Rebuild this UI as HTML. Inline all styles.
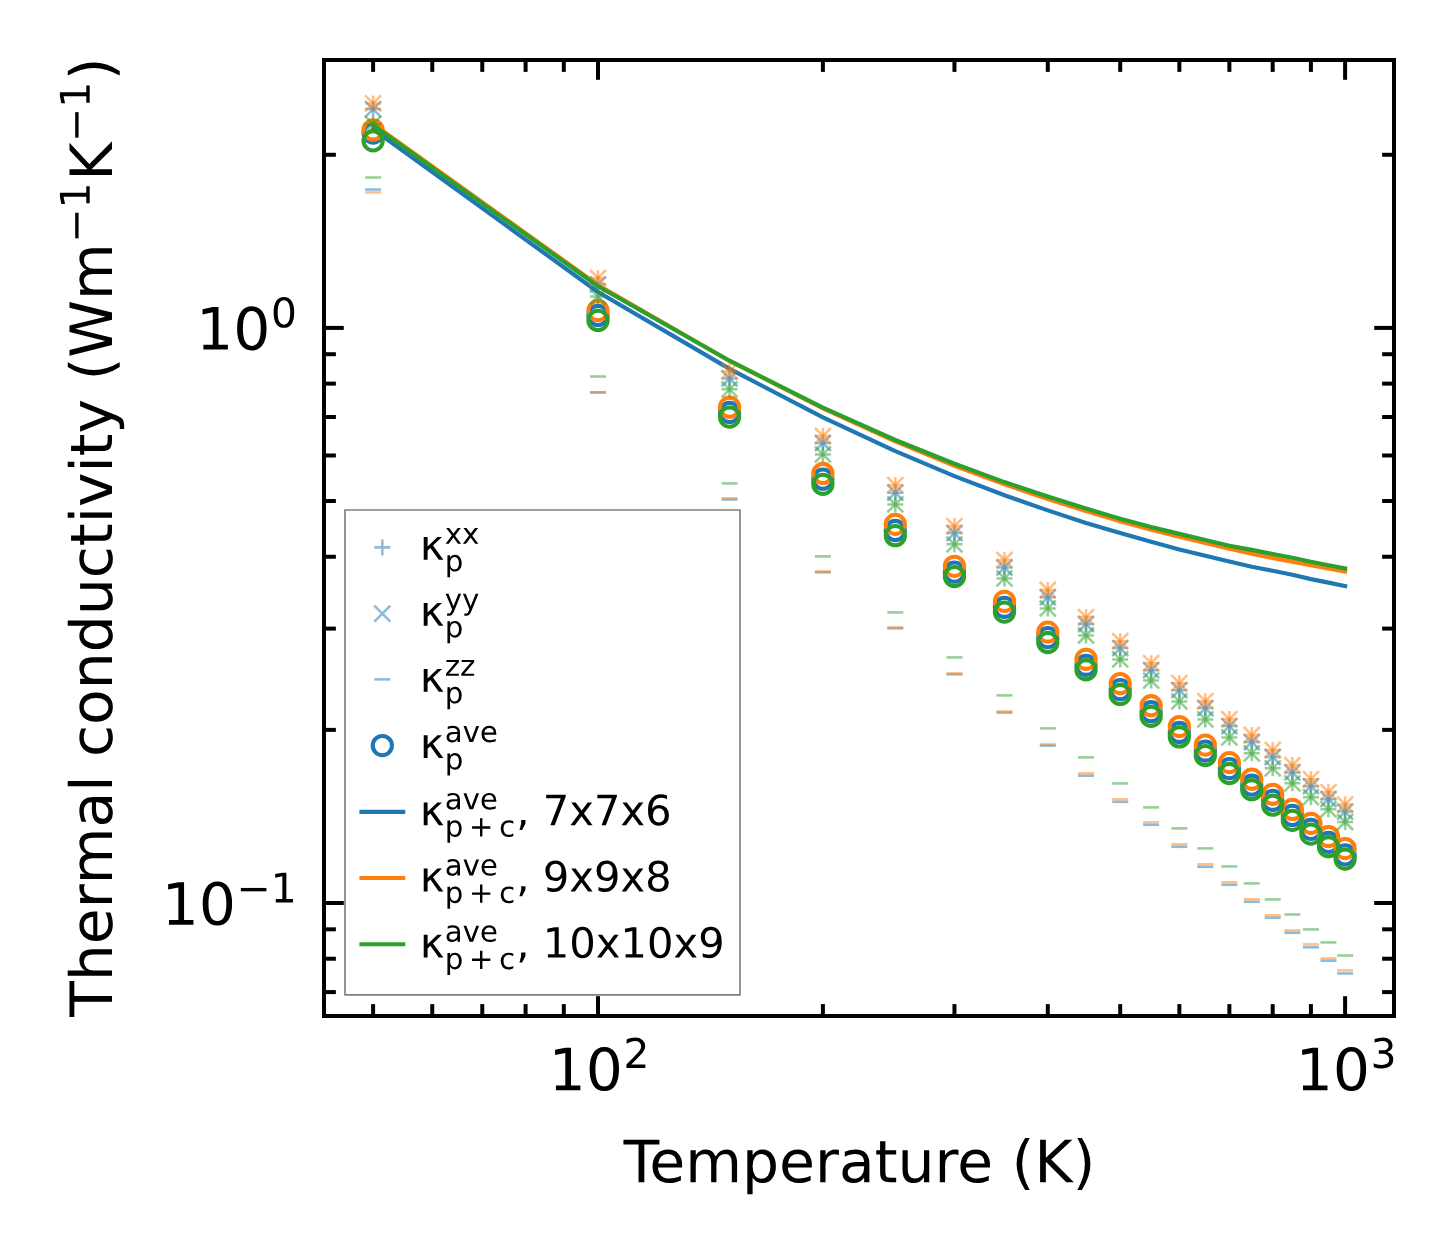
<!DOCTYPE html>
<html><head><meta charset="utf-8"><title>Thermal conductivity</title>
<style>html,body{margin:0;padding:0;background:#fff;overflow:hidden;font-family:"Liberation Sans",sans-serif}svg{display:block}</style>
</head><body>
<svg width="1454" height="1254" viewBox="0 0 348.96 300.96" version="1.1">
<defs>
<style type="text/css">*{stroke-linejoin: round; stroke-linecap: butt}</style>
</defs>
<g id="figure_1">
<g id="patch_1">
<path d="M 0 300.96 L 348.96 300.96 L 348.96 0 L 0 0 z
" style="fill: #ffffff"/>
</g>
<g id="axes_1">
<g id="patch_2">
<path d="M 77.76 243.84 L 334.56 243.84 L 334.56 14.4 L 77.76 14.4 z
" style="fill: #ffffff"/>
</g>
<g id="matplotlib.axis_1">
<g id="xtick_1">
<g id="line2d_1">
<defs>
<path id="m3f027b867d" d="M 0 0 L 0 -4.75 " style="stroke: #000000; stroke-width: 0.96"/>
</defs>
<g>
<use href="#m3f027b867d" x="143.52" y="243.84" style="stroke: #000000; stroke-width: 0.96"/>
</g>
</g>
<g id="line2d_2">
<defs>
<path id="me03b83423b" d="M 0 0 L 0 4.75 " style="stroke: #000000; stroke-width: 0.96"/>
</defs>
<g>
<use href="#me03b83423b" x="143.52" y="14.4" style="stroke: #000000; stroke-width: 0.96"/>
</g>
</g>
<g id="xtl_2" transform="translate(0.480 3.792)">
<g transform="translate(131.2 257.977813) scale(0.14 -0.14)">
<defs>
<path id="DejaVuSans-31" d="M 794 531 L 1825 531 L 1825 4091 L 703 3866 L 703 4441 L 1819 4666 L 2450 4666 L 2450 531 L 3481 531 L 3481 0 L 794 0 L 794 531 z
" transform="scale(0.015625)"/>
<path id="DejaVuSans-30" d="M 2034 4250 Q 1547 4250 1301 3770 Q 1056 3291 1056 2328 Q 1056 1369 1301 889 Q 1547 409 2034 409 Q 2525 409 2770 889 Q 3016 1369 3016 2328 Q 3016 3291 2770 3770 Q 2525 4250 2034 4250 z
M 2034 4750 Q 2819 4750 3233 4129 Q 3647 3509 3647 2328 Q 3647 1150 3233 529 Q 2819 -91 2034 -91 Q 1250 -91 836 529 Q 422 1150 422 2328 Q 422 3509 836 4129 Q 1250 4750 2034 4750 z
" transform="scale(0.015625)"/>
<path id="DejaVuSans-32" d="M 1228 531 L 3431 531 L 3431 0 L 469 0 L 469 531 Q 828 903 1448 1529 Q 2069 2156 2228 2338 Q 2531 2678 2651 2914 Q 2772 3150 2772 3378 Q 2772 3750 2511 3984 Q 2250 4219 1831 4219 Q 1534 4219 1204 4116 Q 875 4013 500 3803 L 500 4441 Q 881 4594 1212 4672 Q 1544 4750 1819 4750 Q 2544 4750 2975 4387 Q 3406 4025 3406 3419 Q 3406 3131 3298 2873 Q 3191 2616 2906 2266 Q 2828 2175 2409 1742 Q 1991 1309 1228 531 z
" transform="scale(0.015625)"/>
</defs>
<use href="#DejaVuSans-31" transform="translate(0 0.765625)"/>
<use href="#DejaVuSans-30" transform="translate(63.623047 0.765625)"/>
<use href="#DejaVuSans-32" transform="translate(128.203125 39.046875) scale(0.7)"/>
</g>
</g>
</g>
<g id="xtick_2">
<g id="line2d_3">
<g>
<use href="#m3f027b867d" x="322.824" y="243.84" style="stroke: #000000; stroke-width: 0.96"/>
</g>
</g>
<g id="line2d_4">
<g>
<use href="#me03b83423b" x="322.824" y="14.4" style="stroke: #000000; stroke-width: 0.96"/>
</g>
</g>
<g id="xtl_3" transform="translate(0.480 3.792)">
<g transform="translate(310.504 257.977813) scale(0.14 -0.14)">
<defs>
<path id="DejaVuSans-33" d="M 2597 2516 Q 3050 2419 3304 2112 Q 3559 1806 3559 1356 Q 3559 666 3084 287 Q 2609 -91 1734 -91 Q 1441 -91 1130 -33 Q 819 25 488 141 L 488 750 Q 750 597 1062 519 Q 1375 441 1716 441 Q 2309 441 2620 675 Q 2931 909 2931 1356 Q 2931 1769 2642 2001 Q 2353 2234 1838 2234 L 1294 2234 L 1294 2753 L 1863 2753 Q 2328 2753 2575 2939 Q 2822 3125 2822 3475 Q 2822 3834 2567 4026 Q 2313 4219 1838 4219 Q 1578 4219 1281 4162 Q 984 4106 628 3988 L 628 4550 Q 988 4650 1302 4700 Q 1616 4750 1894 4750 Q 2613 4750 3031 4423 Q 3450 4097 3450 3541 Q 3450 3153 3228 2886 Q 3006 2619 2597 2516 z
" transform="scale(0.015625)"/>
</defs>
<use href="#DejaVuSans-31" transform="translate(0 0.765625)"/>
<use href="#DejaVuSans-30" transform="translate(63.623047 0.765625)"/>
<use href="#DejaVuSans-33" transform="translate(128.203125 39.046875) scale(0.7)"/>
</g>
</g>
</g>
<g id="xtick_3">
<g id="line2d_5">
<defs>
<path id="m5b5d855633" d="M 0 0 L 0 -2.85 " style="stroke: #000000; stroke-width: 0.96"/>
</defs>
<g>
<use href="#m5b5d855633" x="89.544118" y="243.84" style="stroke: #000000; stroke-width: 0.96"/>
</g>
</g>
<g id="line2d_6">
<defs>
<path id="m568ea358a4" d="M 0 0 L 0 2.85 " style="stroke: #000000; stroke-width: 0.96"/>
</defs>
<g>
<use href="#m568ea358a4" x="89.544118" y="14.4" style="stroke: #000000; stroke-width: 0.96"/>
</g>
</g>
</g>
<g id="xtick_4">
<g id="line2d_7">
<g>
<use href="#m5b5d855633" x="103.741632" y="243.84" style="stroke: #000000; stroke-width: 0.96"/>
</g>
</g>
<g id="line2d_8">
<g>
<use href="#m568ea358a4" x="103.741632" y="14.4" style="stroke: #000000; stroke-width: 0.96"/>
</g>
</g>
</g>
<g id="xtick_5">
<g id="line2d_9">
<g>
<use href="#m5b5d855633" x="115.745459" y="243.84" style="stroke: #000000; stroke-width: 0.96"/>
</g>
</g>
<g id="line2d_10">
<g>
<use href="#m568ea358a4" x="115.745459" y="14.4" style="stroke: #000000; stroke-width: 0.96"/>
</g>
</g>
</g>
<g id="xtick_6">
<g id="line2d_11">
<g>
<use href="#m5b5d855633" x="126.143647" y="243.84" style="stroke: #000000; stroke-width: 0.96"/>
</g>
</g>
<g id="line2d_12">
<g>
<use href="#m568ea358a4" x="126.143647" y="14.4" style="stroke: #000000; stroke-width: 0.96"/>
</g>
</g>
</g>
<g id="xtick_7">
<g id="line2d_13">
<g>
<use href="#m5b5d855633" x="135.315499" y="243.84" style="stroke: #000000; stroke-width: 0.96"/>
</g>
</g>
<g id="line2d_14">
<g>
<use href="#m568ea358a4" x="135.315499" y="14.4" style="stroke: #000000; stroke-width: 0.96"/>
</g>
</g>
</g>
<g id="xtick_8">
<g id="line2d_15">
<g>
<use href="#m5b5d855633" x="197.495882" y="243.84" style="stroke: #000000; stroke-width: 0.96"/>
</g>
</g>
<g id="line2d_16">
<g>
<use href="#m568ea358a4" x="197.495882" y="14.4" style="stroke: #000000; stroke-width: 0.96"/>
</g>
</g>
</g>
<g id="xtick_9">
<g id="line2d_17">
<g>
<use href="#m5b5d855633" x="229.069749" y="243.84" style="stroke: #000000; stroke-width: 0.96"/>
</g>
</g>
<g id="line2d_18">
<g>
<use href="#m568ea358a4" x="229.069749" y="14.4" style="stroke: #000000; stroke-width: 0.96"/>
</g>
</g>
</g>
<g id="xtick_10">
<g id="line2d_19">
<g>
<use href="#m5b5d855633" x="251.471765" y="243.84" style="stroke: #000000; stroke-width: 0.96"/>
</g>
</g>
<g id="line2d_20">
<g>
<use href="#m568ea358a4" x="251.471765" y="14.4" style="stroke: #000000; stroke-width: 0.96"/>
</g>
</g>
</g>
<g id="xtick_11">
<g id="line2d_21">
<g>
<use href="#m5b5d855633" x="268.848118" y="243.84" style="stroke: #000000; stroke-width: 0.96"/>
</g>
</g>
<g id="line2d_22">
<g>
<use href="#m568ea358a4" x="268.848118" y="14.4" style="stroke: #000000; stroke-width: 0.96"/>
</g>
</g>
</g>
<g id="xtick_12">
<g id="line2d_23">
<g>
<use href="#m5b5d855633" x="283.045632" y="243.84" style="stroke: #000000; stroke-width: 0.96"/>
</g>
</g>
<g id="line2d_24">
<g>
<use href="#m568ea358a4" x="283.045632" y="14.4" style="stroke: #000000; stroke-width: 0.96"/>
</g>
</g>
</g>
<g id="xtick_13">
<g id="line2d_25">
<g>
<use href="#m5b5d855633" x="295.049459" y="243.84" style="stroke: #000000; stroke-width: 0.96"/>
</g>
</g>
<g id="line2d_26">
<g>
<use href="#m568ea358a4" x="295.049459" y="14.4" style="stroke: #000000; stroke-width: 0.96"/>
</g>
</g>
</g>
<g id="xtick_14">
<g id="line2d_27">
<g>
<use href="#m5b5d855633" x="305.447647" y="243.84" style="stroke: #000000; stroke-width: 0.96"/>
</g>
</g>
<g id="line2d_28">
<g>
<use href="#m568ea358a4" x="305.447647" y="14.4" style="stroke: #000000; stroke-width: 0.96"/>
</g>
</g>
</g>
<g id="xtick_15">
<g id="line2d_29">
<g>
<use href="#m5b5d855633" x="314.619499" y="243.84" style="stroke: #000000; stroke-width: 0.96"/>
</g>
</g>
<g id="line2d_30">
<g>
<use href="#m568ea358a4" x="314.619499" y="14.4" style="stroke: #000000; stroke-width: 0.96"/>
</g>
</g>
</g>
<g id="xlabel" transform="translate(0.120 8.208)">
<g transform="translate(149.545312 275.527188) scale(0.14 -0.14)">
<defs>
<path id="DejaVuSans-54" d="M -19 4666 L 3928 4666 L 3928 4134 L 2272 4134 L 2272 0 L 1638 0 L 1638 4134 L -19 4134 L -19 4666 z
" transform="scale(0.015625)"/>
<path id="DejaVuSans-65" d="M 3597 1894 L 3597 1613 L 953 1613 Q 991 1019 1311 708 Q 1631 397 2203 397 Q 2534 397 2845 478 Q 3156 559 3463 722 L 3463 178 Q 3153 47 2828 -22 Q 2503 -91 2169 -91 Q 1331 -91 842 396 Q 353 884 353 1716 Q 353 2575 817 3079 Q 1281 3584 2069 3584 Q 2775 3584 3186 3129 Q 3597 2675 3597 1894 z
M 3022 2063 Q 3016 2534 2758 2815 Q 2500 3097 2075 3097 Q 1594 3097 1305 2825 Q 1016 2553 972 2059 L 3022 2063 z
" transform="scale(0.015625)"/>
<path id="DejaVuSans-6d" d="M 3328 2828 Q 3544 3216 3844 3400 Q 4144 3584 4550 3584 Q 5097 3584 5394 3201 Q 5691 2819 5691 2113 L 5691 0 L 5113 0 L 5113 2094 Q 5113 2597 4934 2840 Q 4756 3084 4391 3084 Q 3944 3084 3684 2787 Q 3425 2491 3425 1978 L 3425 0 L 2847 0 L 2847 2094 Q 2847 2600 2669 2842 Q 2491 3084 2119 3084 Q 1678 3084 1418 2786 Q 1159 2488 1159 1978 L 1159 0 L 581 0 L 581 3500 L 1159 3500 L 1159 2956 Q 1356 3278 1631 3431 Q 1906 3584 2284 3584 Q 2666 3584 2933 3390 Q 3200 3197 3328 2828 z
" transform="scale(0.015625)"/>
<path id="DejaVuSans-70" d="M 1159 525 L 1159 -1331 L 581 -1331 L 581 3500 L 1159 3500 L 1159 2969 Q 1341 3281 1617 3432 Q 1894 3584 2278 3584 Q 2916 3584 3314 3078 Q 3713 2572 3713 1747 Q 3713 922 3314 415 Q 2916 -91 2278 -91 Q 1894 -91 1617 61 Q 1341 213 1159 525 z
M 3116 1747 Q 3116 2381 2855 2742 Q 2594 3103 2138 3103 Q 1681 3103 1420 2742 Q 1159 2381 1159 1747 Q 1159 1113 1420 752 Q 1681 391 2138 391 Q 2594 391 2855 752 Q 3116 1113 3116 1747 z
" transform="scale(0.015625)"/>
<path id="DejaVuSans-72" d="M 2631 2963 Q 2534 3019 2420 3045 Q 2306 3072 2169 3072 Q 1681 3072 1420 2755 Q 1159 2438 1159 1844 L 1159 0 L 581 0 L 581 3500 L 1159 3500 L 1159 2956 Q 1341 3275 1631 3429 Q 1922 3584 2338 3584 Q 2397 3584 2469 3576 Q 2541 3569 2628 3553 L 2631 2963 z
" transform="scale(0.015625)"/>
<path id="DejaVuSans-61" d="M 2194 1759 Q 1497 1759 1228 1600 Q 959 1441 959 1056 Q 959 750 1161 570 Q 1363 391 1709 391 Q 2188 391 2477 730 Q 2766 1069 2766 1631 L 2766 1759 L 2194 1759 z
M 3341 1997 L 3341 0 L 2766 0 L 2766 531 Q 2569 213 2275 61 Q 1981 -91 1556 -91 Q 1019 -91 701 211 Q 384 513 384 1019 Q 384 1609 779 1909 Q 1175 2209 1959 2209 L 2766 2209 L 2766 2266 Q 2766 2663 2505 2880 Q 2244 3097 1772 3097 Q 1472 3097 1187 3025 Q 903 2953 641 2809 L 641 3341 Q 956 3463 1253 3523 Q 1550 3584 1831 3584 Q 2591 3584 2966 3190 Q 3341 2797 3341 1997 z
" transform="scale(0.015625)"/>
<path id="DejaVuSans-74" d="M 1172 4494 L 1172 3500 L 2356 3500 L 2356 3053 L 1172 3053 L 1172 1153 Q 1172 725 1289 603 Q 1406 481 1766 481 L 2356 481 L 2356 0 L 1766 0 Q 1100 0 847 248 Q 594 497 594 1153 L 594 3053 L 172 3053 L 172 3500 L 594 3500 L 594 4494 L 1172 4494 z
" transform="scale(0.015625)"/>
<path id="DejaVuSans-75" d="M 544 1381 L 544 3500 L 1119 3500 L 1119 1403 Q 1119 906 1312 657 Q 1506 409 1894 409 Q 2359 409 2629 706 Q 2900 1003 2900 1516 L 2900 3500 L 3475 3500 L 3475 0 L 2900 0 L 2900 538 Q 2691 219 2414 64 Q 2138 -91 1772 -91 Q 1169 -91 856 284 Q 544 659 544 1381 z
M 1991 3584 L 1991 3584 z
" transform="scale(0.015625)"/>
<path id="DejaVuSans-20" transform="scale(0.015625)"/>
<path id="DejaVuSans-28" d="M 1984 4856 Q 1566 4138 1362 3434 Q 1159 2731 1159 2009 Q 1159 1288 1364 580 Q 1569 -128 1984 -844 L 1484 -844 Q 1016 -109 783 600 Q 550 1309 550 2009 Q 550 2706 781 3412 Q 1013 4119 1484 4856 L 1984 4856 z
" transform="scale(0.015625)"/>
<path id="DejaVuSans-4b" d="M 628 4666 L 1259 4666 L 1259 2694 L 3353 4666 L 4166 4666 L 1850 2491 L 4331 0 L 3500 0 L 1259 2247 L 1259 0 L 628 0 L 628 4666 z
" transform="scale(0.015625)"/>
<path id="DejaVuSans-29" d="M 513 4856 L 1013 4856 Q 1481 4119 1714 3412 Q 1947 2706 1947 2009 Q 1947 1309 1714 600 Q 1481 -109 1013 -844 L 513 -844 Q 928 -128 1133 580 Q 1338 1288 1338 2009 Q 1338 2731 1133 3434 Q 928 4138 513 4856 z
" transform="scale(0.015625)"/>
</defs>
<use href="#DejaVuSans-54"/>
<use href="#DejaVuSans-65" transform="translate(44.083984 0)"/>
<use href="#DejaVuSans-6d" transform="translate(105.607422 0)"/>
<use href="#DejaVuSans-70" transform="translate(203.019531 0)"/>
<use href="#DejaVuSans-65" transform="translate(266.496094 0)"/>
<use href="#DejaVuSans-72" transform="translate(328.019531 0)"/>
<use href="#DejaVuSans-61" transform="translate(369.132812 0)"/>
<use href="#DejaVuSans-74" transform="translate(430.412109 0)"/>
<use href="#DejaVuSans-75" transform="translate(469.621094 0)"/>
<use href="#DejaVuSans-72" transform="translate(533 0)"/>
<use href="#DejaVuSans-65" transform="translate(571.863281 0)"/>
<use href="#DejaVuSans-20" transform="translate(633.386719 0)"/>
<use href="#DejaVuSans-28" transform="translate(665.173828 0)"/>
<use href="#DejaVuSans-4b" transform="translate(704.1875 0)"/>
<use href="#DejaVuSans-29" transform="translate(769.763672 0)"/>
</g>
</g>
</g>
<g id="matplotlib.axis_2">
<g id="ytick_1">
<g id="line2d_31">
<defs>
<path id="me711ac755c" d="M 0 0 L 4.75 0 " style="stroke: #000000; stroke-width: 0.96"/>
</defs>
<g>
<use href="#me711ac755c" x="77.76" y="216.72" style="stroke: #000000; stroke-width: 0.96"/>
</g>
</g>
<g id="line2d_32">
<defs>
<path id="m1a2acde099" d="M 0 0 L -4.75 0 " style="stroke: #000000; stroke-width: 0.96"/>
</defs>
<g>
<use href="#m1a2acde099" x="334.56" y="216.72" style="stroke: #000000; stroke-width: 0.96"/>
</g>
</g>
<g id="ytl_-1" transform="translate(-2.544 0.000)">
<g transform="translate(41.36 222.038906) scale(0.14 -0.14)">
<defs>
<path id="DejaVuSans-2212" d="M 678 2272 L 4684 2272 L 4684 1741 L 678 1741 L 678 2272 z
" transform="scale(0.015625)"/>
</defs>
<use href="#DejaVuSans-31" transform="translate(0 0.684375)"/>
<use href="#DejaVuSans-30" transform="translate(63.623047 0.684375)"/>
<use href="#DejaVuSans-2212" transform="translate(128.203125 38.965625) scale(0.7)"/>
<use href="#DejaVuSans-31" transform="translate(186.855469 38.965625) scale(0.7)"/>
</g>
</g>
</g>
<g id="ytick_2">
<g id="line2d_33">
<g>
<use href="#me711ac755c" x="77.76" y="78.696" style="stroke: #000000; stroke-width: 0.96"/>
</g>
</g>
<g id="line2d_34">
<g>
<use href="#m1a2acde099" x="334.56" y="78.696" style="stroke: #000000; stroke-width: 0.96"/>
</g>
</g>
<g id="ytl_0" transform="translate(-2.544 0.000)">
<g transform="translate(49.62 84.014906) scale(0.14 -0.14)">
<use href="#DejaVuSans-31" transform="translate(0 0.765625)"/>
<use href="#DejaVuSans-30" transform="translate(63.623047 0.765625)"/>
<use href="#DejaVuSans-30" transform="translate(128.203125 39.046875) scale(0.7)"/>
</g>
</g>
</g>
<g id="ytick_3">
<g id="line2d_35">
<defs>
<path id="m855f1141aa" d="M 0 0 L 2.85 0 " style="stroke: #000000; stroke-width: 0.96"/>
</defs>
<g>
<use href="#m855f1141aa" x="77.76" y="238.100188" style="stroke: #000000; stroke-width: 0.96"/>
</g>
</g>
<g id="line2d_36">
<defs>
<path id="m76faeb5636" d="M 0 0 L -2.85 0 " style="stroke: #000000; stroke-width: 0.96"/>
</defs>
<g>
<use href="#m76faeb5636" x="334.56" y="238.100188" style="stroke: #000000; stroke-width: 0.96"/>
</g>
</g>
</g>
<g id="ytick_4">
<g id="line2d_37">
<g>
<use href="#m855f1141aa" x="77.76" y="230.095908" style="stroke: #000000; stroke-width: 0.96"/>
</g>
</g>
<g id="line2d_38">
<g>
<use href="#m76faeb5636" x="334.56" y="230.095908" style="stroke: #000000; stroke-width: 0.96"/>
</g>
</g>
</g>
<g id="ytick_5">
<g id="line2d_39">
<g>
<use href="#m855f1141aa" x="77.76" y="223.035632" style="stroke: #000000; stroke-width: 0.96"/>
</g>
</g>
<g id="line2d_40">
<g>
<use href="#m76faeb5636" x="334.56" y="223.035632" style="stroke: #000000; stroke-width: 0.96"/>
</g>
</g>
</g>
<g id="ytick_6">
<g id="line2d_41">
<g>
<use href="#m855f1141aa" x="77.76" y="175.170636" style="stroke: #000000; stroke-width: 0.96"/>
</g>
</g>
<g id="line2d_42">
<g>
<use href="#m76faeb5636" x="334.56" y="175.170636" style="stroke: #000000; stroke-width: 0.96"/>
</g>
</g>
</g>
<g id="ytick_7">
<g id="line2d_43">
<g>
<use href="#m855f1141aa" x="77.76" y="150.865816" style="stroke: #000000; stroke-width: 0.96"/>
</g>
</g>
<g id="line2d_44">
<g>
<use href="#m76faeb5636" x="334.56" y="150.865816" style="stroke: #000000; stroke-width: 0.96"/>
</g>
</g>
</g>
<g id="ytick_8">
<g id="line2d_45">
<g>
<use href="#m855f1141aa" x="77.76" y="133.621272" style="stroke: #000000; stroke-width: 0.96"/>
</g>
</g>
<g id="line2d_46">
<g>
<use href="#m76faeb5636" x="334.56" y="133.621272" style="stroke: #000000; stroke-width: 0.96"/>
</g>
</g>
</g>
<g id="ytick_9">
<g id="line2d_47">
<g>
<use href="#m855f1141aa" x="77.76" y="120.245364" style="stroke: #000000; stroke-width: 0.96"/>
</g>
</g>
<g id="line2d_48">
<g>
<use href="#m76faeb5636" x="334.56" y="120.245364" style="stroke: #000000; stroke-width: 0.96"/>
</g>
</g>
</g>
<g id="ytick_10">
<g id="line2d_49">
<g>
<use href="#m855f1141aa" x="77.76" y="109.316452" style="stroke: #000000; stroke-width: 0.96"/>
</g>
</g>
<g id="line2d_50">
<g>
<use href="#m76faeb5636" x="334.56" y="109.316452" style="stroke: #000000; stroke-width: 0.96"/>
</g>
</g>
</g>
<g id="ytick_11">
<g id="line2d_51">
<g>
<use href="#m855f1141aa" x="77.76" y="100.076188" style="stroke: #000000; stroke-width: 0.96"/>
</g>
</g>
<g id="line2d_52">
<g>
<use href="#m76faeb5636" x="334.56" y="100.076188" style="stroke: #000000; stroke-width: 0.96"/>
</g>
</g>
</g>
<g id="ytick_12">
<g id="line2d_53">
<g>
<use href="#m855f1141aa" x="77.76" y="92.071908" style="stroke: #000000; stroke-width: 0.96"/>
</g>
</g>
<g id="line2d_54">
<g>
<use href="#m76faeb5636" x="334.56" y="92.071908" style="stroke: #000000; stroke-width: 0.96"/>
</g>
</g>
</g>
<g id="ytick_13">
<g id="line2d_55">
<g>
<use href="#m855f1141aa" x="77.76" y="85.011632" style="stroke: #000000; stroke-width: 0.96"/>
</g>
</g>
<g id="line2d_56">
<g>
<use href="#m76faeb5636" x="334.56" y="85.011632" style="stroke: #000000; stroke-width: 0.96"/>
</g>
</g>
</g>
<g id="ytick_14">
<g id="line2d_57">
<g>
<use href="#m855f1141aa" x="77.76" y="37.146636" style="stroke: #000000; stroke-width: 0.96"/>
</g>
</g>
<g id="line2d_58">
<g>
<use href="#m76faeb5636" x="334.56" y="37.146636" style="stroke: #000000; stroke-width: 0.96"/>
</g>
</g>
</g>
<g id="ylabel" transform="translate(-7.440 -0.240)">
<g transform="translate(34.42 244.27) rotate(-90) scale(0.14 -0.14)">
<defs>
<path id="DejaVuSans-68" d="M 3513 2113 L 3513 0 L 2938 0 L 2938 2094 Q 2938 2591 2744 2837 Q 2550 3084 2163 3084 Q 1697 3084 1428 2787 Q 1159 2491 1159 1978 L 1159 0 L 581 0 L 581 4863 L 1159 4863 L 1159 2956 Q 1366 3272 1645 3428 Q 1925 3584 2291 3584 Q 2894 3584 3203 3211 Q 3513 2838 3513 2113 z
" transform="scale(0.015625)"/>
<path id="DejaVuSans-6c" d="M 603 4863 L 1178 4863 L 1178 0 L 603 0 L 603 4863 z
" transform="scale(0.015625)"/>
<path id="DejaVuSans-63" d="M 3122 3366 L 3122 2828 Q 2878 2963 2633 3030 Q 2388 3097 2138 3097 Q 1578 3097 1268 2742 Q 959 2388 959 1747 Q 959 1106 1268 751 Q 1578 397 2138 397 Q 2388 397 2633 464 Q 2878 531 3122 666 L 3122 134 Q 2881 22 2623 -34 Q 2366 -91 2075 -91 Q 1284 -91 818 406 Q 353 903 353 1747 Q 353 2603 823 3093 Q 1294 3584 2113 3584 Q 2378 3584 2631 3529 Q 2884 3475 3122 3366 z
" transform="scale(0.015625)"/>
<path id="DejaVuSans-6f" d="M 1959 3097 Q 1497 3097 1228 2736 Q 959 2375 959 1747 Q 959 1119 1226 758 Q 1494 397 1959 397 Q 2419 397 2687 759 Q 2956 1122 2956 1747 Q 2956 2369 2687 2733 Q 2419 3097 1959 3097 z
M 1959 3584 Q 2709 3584 3137 3096 Q 3566 2609 3566 1747 Q 3566 888 3137 398 Q 2709 -91 1959 -91 Q 1206 -91 779 398 Q 353 888 353 1747 Q 353 2609 779 3096 Q 1206 3584 1959 3584 z
" transform="scale(0.015625)"/>
<path id="DejaVuSans-6e" d="M 3513 2113 L 3513 0 L 2938 0 L 2938 2094 Q 2938 2591 2744 2837 Q 2550 3084 2163 3084 Q 1697 3084 1428 2787 Q 1159 2491 1159 1978 L 1159 0 L 581 0 L 581 3500 L 1159 3500 L 1159 2956 Q 1366 3272 1645 3428 Q 1925 3584 2291 3584 Q 2894 3584 3203 3211 Q 3513 2838 3513 2113 z
" transform="scale(0.015625)"/>
<path id="DejaVuSans-64" d="M 2906 2969 L 2906 4863 L 3481 4863 L 3481 0 L 2906 0 L 2906 525 Q 2725 213 2448 61 Q 2172 -91 1784 -91 Q 1150 -91 751 415 Q 353 922 353 1747 Q 353 2572 751 3078 Q 1150 3584 1784 3584 Q 2172 3584 2448 3432 Q 2725 3281 2906 2969 z
M 947 1747 Q 947 1113 1208 752 Q 1469 391 1925 391 Q 2381 391 2643 752 Q 2906 1113 2906 1747 Q 2906 2381 2643 2742 Q 2381 3103 1925 3103 Q 1469 3103 1208 2742 Q 947 2381 947 1747 z
" transform="scale(0.015625)"/>
<path id="DejaVuSans-69" d="M 603 3500 L 1178 3500 L 1178 0 L 603 0 L 603 3500 z
M 603 4863 L 1178 4863 L 1178 4134 L 603 4134 L 603 4863 z
" transform="scale(0.015625)"/>
<path id="DejaVuSans-76" d="M 191 3500 L 800 3500 L 1894 563 L 2988 3500 L 3597 3500 L 2284 0 L 1503 0 L 191 3500 z
" transform="scale(0.015625)"/>
<path id="DejaVuSans-79" d="M 2059 -325 Q 1816 -950 1584 -1140 Q 1353 -1331 966 -1331 L 506 -1331 L 506 -850 L 844 -850 Q 1081 -850 1212 -737 Q 1344 -625 1503 -206 L 1606 56 L 191 3500 L 800 3500 L 1894 763 L 2988 3500 L 3597 3500 L 2059 -325 z
" transform="scale(0.015625)"/>
<path id="DejaVuSans-57" d="M 213 4666 L 850 4666 L 1831 722 L 2809 4666 L 3519 4666 L 4500 722 L 5478 4666 L 6119 4666 L 4947 0 L 4153 0 L 3169 4050 L 2175 0 L 1381 0 L 213 4666 z
" transform="scale(0.015625)"/>
</defs>
<use href="#DejaVuSans-54" transform="translate(0 0.684375)"/>
<use href="#DejaVuSans-68" transform="translate(61.083984 0.684375)"/>
<use href="#DejaVuSans-65" transform="translate(124.462891 0.684375)"/>
<use href="#DejaVuSans-72" transform="translate(185.986328 0.684375)"/>
<use href="#DejaVuSans-6d" transform="translate(227.099609 0.684375)"/>
<use href="#DejaVuSans-61" transform="translate(324.511719 0.684375)"/>
<use href="#DejaVuSans-6c" transform="translate(385.791016 0.684375)"/>
<use href="#DejaVuSans-20" transform="translate(413.574219 0.684375)"/>
<use href="#DejaVuSans-63" transform="translate(445.361328 0.684375)"/>
<use href="#DejaVuSans-6f" transform="translate(500.341797 0.684375)"/>
<use href="#DejaVuSans-6e" transform="translate(561.523438 0.684375)"/>
<use href="#DejaVuSans-64" transform="translate(624.902344 0.684375)"/>
<use href="#DejaVuSans-75" transform="translate(688.378906 0.684375)"/>
<use href="#DejaVuSans-63" transform="translate(751.757812 0.684375)"/>
<use href="#DejaVuSans-74" transform="translate(806.738281 0.684375)"/>
<use href="#DejaVuSans-69" transform="translate(845.947266 0.684375)"/>
<use href="#DejaVuSans-76" transform="translate(873.730469 0.684375)"/>
<use href="#DejaVuSans-69" transform="translate(932.910156 0.684375)"/>
<use href="#DejaVuSans-74" transform="translate(960.693359 0.684375)"/>
<use href="#DejaVuSans-79" transform="translate(999.902344 0.684375)"/>
<use href="#DejaVuSans-20" transform="translate(1059.082031 0.684375)"/>
<use href="#DejaVuSans-28" transform="translate(1090.869141 0.684375)"/>
<use href="#DejaVuSans-57" transform="translate(1129.882812 0.684375)"/>
<use href="#DejaVuSans-6d" transform="translate(1228.759766 0.684375)"/>
<use href="#DejaVuSans-2212" transform="translate(1327.128906 38.965625) scale(0.7)"/>
<use href="#DejaVuSans-31" transform="translate(1385.78125 38.965625) scale(0.7)"/>
<use href="#DejaVuSans-4b" transform="translate(1433.051758 0.684375)"/>
<use href="#DejaVuSans-2212" transform="translate(1499.584961 38.965625) scale(0.7)"/>
<use href="#DejaVuSans-31" transform="translate(1558.237305 38.965625) scale(0.7)"/>
<use href="#DejaVuSans-29" transform="translate(1605.507812 0.684375)"/>
</g>
</g>
</g>
<g id="line2d_59">
<defs>
<path id="mce99f1e8fa" d="M -1.92 0 L 1.92 0 M 0 1.92 L 0 -1.92 " style="stroke: #1f77b4; stroke-opacity: 0.5; stroke-width: 0.61"/>
</defs>
<g clip-path="url(#p84a2641973)">
<use href="#mce99f1e8fa" x="89.544118" y="26.184" style="fill: #1f77b4; fill-opacity: 0.5; stroke: #1f77b4; stroke-opacity: 0.5; stroke-width: 0.61"/>
<use href="#mce99f1e8fa" x="143.52" y="68.232" style="fill: #1f77b4; fill-opacity: 0.5; stroke: #1f77b4; stroke-opacity: 0.5; stroke-width: 0.61"/>
<use href="#mce99f1e8fa" x="175.093867" y="90.84" style="fill: #1f77b4; fill-opacity: 0.5; stroke: #1f77b4; stroke-opacity: 0.5; stroke-width: 0.61"/>
<use href="#mce99f1e8fa" x="197.495882" y="106.32" style="fill: #1f77b4; fill-opacity: 0.5; stroke: #1f77b4; stroke-opacity: 0.5; stroke-width: 0.61"/>
<use href="#mce99f1e8fa" x="214.872235" y="118.248" style="fill: #1f77b4; fill-opacity: 0.5; stroke: #1f77b4; stroke-opacity: 0.5; stroke-width: 0.61"/>
<use href="#mce99f1e8fa" x="229.069749" y="127.944" style="fill: #1f77b4; fill-opacity: 0.5; stroke: #1f77b4; stroke-opacity: 0.5; stroke-width: 0.61"/>
<use href="#mce99f1e8fa" x="241.073577" y="136.2" style="fill: #1f77b4; fill-opacity: 0.5; stroke: #1f77b4; stroke-opacity: 0.5; stroke-width: 0.61"/>
<use href="#mce99f1e8fa" x="251.471765" y="143.34" style="fill: #1f77b4; fill-opacity: 0.5; stroke: #1f77b4; stroke-opacity: 0.5; stroke-width: 0.61"/>
<use href="#mce99f1e8fa" x="260.643617" y="149.76" style="fill: #1f77b4; fill-opacity: 0.5; stroke: #1f77b4; stroke-opacity: 0.5; stroke-width: 0.61"/>
<use href="#mce99f1e8fa" x="268.848118" y="155.544" style="fill: #1f77b4; fill-opacity: 0.5; stroke: #1f77b4; stroke-opacity: 0.5; stroke-width: 0.61"/>
<use href="#mce99f1e8fa" x="276.269992" y="160.848" style="fill: #1f77b4; fill-opacity: 0.5; stroke: #1f77b4; stroke-opacity: 0.5; stroke-width: 0.61"/>
<use href="#mce99f1e8fa" x="283.045632" y="165.648" style="fill: #1f77b4; fill-opacity: 0.5; stroke: #1f77b4; stroke-opacity: 0.5; stroke-width: 0.61"/>
<use href="#mce99f1e8fa" x="289.278616" y="169.944" style="fill: #1f77b4; fill-opacity: 0.5; stroke: #1f77b4; stroke-opacity: 0.5; stroke-width: 0.61"/>
<use href="#mce99f1e8fa" x="295.049459" y="174.264" style="fill: #1f77b4; fill-opacity: 0.5; stroke: #1f77b4; stroke-opacity: 0.5; stroke-width: 0.61"/>
<use href="#mce99f1e8fa" x="300.421985" y="178.08" style="fill: #1f77b4; fill-opacity: 0.5; stroke: #1f77b4; stroke-opacity: 0.5; stroke-width: 0.61"/>
<use href="#mce99f1e8fa" x="305.447647" y="181.68" style="fill: #1f77b4; fill-opacity: 0.5; stroke: #1f77b4; stroke-opacity: 0.5; stroke-width: 0.61"/>
<use href="#mce99f1e8fa" x="310.168531" y="185.376" style="fill: #1f77b4; fill-opacity: 0.5; stroke: #1f77b4; stroke-opacity: 0.5; stroke-width: 0.61"/>
<use href="#mce99f1e8fa" x="314.619499" y="188.688" style="fill: #1f77b4; fill-opacity: 0.5; stroke: #1f77b4; stroke-opacity: 0.5; stroke-width: 0.61"/>
<use href="#mce99f1e8fa" x="318.829753" y="191.808" style="fill: #1f77b4; fill-opacity: 0.5; stroke: #1f77b4; stroke-opacity: 0.5; stroke-width: 0.61"/>
<use href="#mce99f1e8fa" x="322.824" y="194.784" style="fill: #1f77b4; fill-opacity: 0.5; stroke: #1f77b4; stroke-opacity: 0.5; stroke-width: 0.61"/>
</g>
</g>
<g id="line2d_60">
<defs>
<path id="m99b13dde95" d="M -1.92 1.92 L 1.92 -1.92 M -1.92 -1.92 L 1.92 1.92 " style="stroke: #1f77b4; stroke-opacity: 0.5; stroke-width: 0.61"/>
</defs>
<g clip-path="url(#p84a2641973)">
<use href="#m99b13dde95" x="89.544118" y="26.184" style="fill: #1f77b4; fill-opacity: 0.5; stroke: #1f77b4; stroke-opacity: 0.5; stroke-width: 0.61"/>
<use href="#m99b13dde95" x="143.52" y="68.232" style="fill: #1f77b4; fill-opacity: 0.5; stroke: #1f77b4; stroke-opacity: 0.5; stroke-width: 0.61"/>
<use href="#m99b13dde95" x="175.093867" y="90.84" style="fill: #1f77b4; fill-opacity: 0.5; stroke: #1f77b4; stroke-opacity: 0.5; stroke-width: 0.61"/>
<use href="#m99b13dde95" x="197.495882" y="106.32" style="fill: #1f77b4; fill-opacity: 0.5; stroke: #1f77b4; stroke-opacity: 0.5; stroke-width: 0.61"/>
<use href="#m99b13dde95" x="214.872235" y="118.248" style="fill: #1f77b4; fill-opacity: 0.5; stroke: #1f77b4; stroke-opacity: 0.5; stroke-width: 0.61"/>
<use href="#m99b13dde95" x="229.069749" y="127.944" style="fill: #1f77b4; fill-opacity: 0.5; stroke: #1f77b4; stroke-opacity: 0.5; stroke-width: 0.61"/>
<use href="#m99b13dde95" x="241.073577" y="136.2" style="fill: #1f77b4; fill-opacity: 0.5; stroke: #1f77b4; stroke-opacity: 0.5; stroke-width: 0.61"/>
<use href="#m99b13dde95" x="251.471765" y="143.34" style="fill: #1f77b4; fill-opacity: 0.5; stroke: #1f77b4; stroke-opacity: 0.5; stroke-width: 0.61"/>
<use href="#m99b13dde95" x="260.643617" y="149.76" style="fill: #1f77b4; fill-opacity: 0.5; stroke: #1f77b4; stroke-opacity: 0.5; stroke-width: 0.61"/>
<use href="#m99b13dde95" x="268.848118" y="155.544" style="fill: #1f77b4; fill-opacity: 0.5; stroke: #1f77b4; stroke-opacity: 0.5; stroke-width: 0.61"/>
<use href="#m99b13dde95" x="276.269992" y="160.848" style="fill: #1f77b4; fill-opacity: 0.5; stroke: #1f77b4; stroke-opacity: 0.5; stroke-width: 0.61"/>
<use href="#m99b13dde95" x="283.045632" y="165.648" style="fill: #1f77b4; fill-opacity: 0.5; stroke: #1f77b4; stroke-opacity: 0.5; stroke-width: 0.61"/>
<use href="#m99b13dde95" x="289.278616" y="169.944" style="fill: #1f77b4; fill-opacity: 0.5; stroke: #1f77b4; stroke-opacity: 0.5; stroke-width: 0.61"/>
<use href="#m99b13dde95" x="295.049459" y="174.264" style="fill: #1f77b4; fill-opacity: 0.5; stroke: #1f77b4; stroke-opacity: 0.5; stroke-width: 0.61"/>
<use href="#m99b13dde95" x="300.421985" y="178.08" style="fill: #1f77b4; fill-opacity: 0.5; stroke: #1f77b4; stroke-opacity: 0.5; stroke-width: 0.61"/>
<use href="#m99b13dde95" x="305.447647" y="181.68" style="fill: #1f77b4; fill-opacity: 0.5; stroke: #1f77b4; stroke-opacity: 0.5; stroke-width: 0.61"/>
<use href="#m99b13dde95" x="310.168531" y="185.376" style="fill: #1f77b4; fill-opacity: 0.5; stroke: #1f77b4; stroke-opacity: 0.5; stroke-width: 0.61"/>
<use href="#m99b13dde95" x="314.619499" y="188.688" style="fill: #1f77b4; fill-opacity: 0.5; stroke: #1f77b4; stroke-opacity: 0.5; stroke-width: 0.61"/>
<use href="#m99b13dde95" x="318.829753" y="191.808" style="fill: #1f77b4; fill-opacity: 0.5; stroke: #1f77b4; stroke-opacity: 0.5; stroke-width: 0.61"/>
<use href="#m99b13dde95" x="322.824" y="194.784" style="fill: #1f77b4; fill-opacity: 0.5; stroke: #1f77b4; stroke-opacity: 0.5; stroke-width: 0.61"/>
</g>
</g>
<g id="line2d_61">
<defs>
<path id="m430d65eb48" d="M 1.92 0 L -1.92 -0 " style="stroke: #1f77b4; stroke-opacity: 0.5; stroke-width: 0.61"/>
</defs>
<g clip-path="url(#p84a2641973)">
<use href="#m430d65eb48" x="89.544118" y="45.48" style="fill: #1f77b4; fill-opacity: 0.5; stroke: #1f77b4; stroke-opacity: 0.5; stroke-width: 0.61"/>
<use href="#m430d65eb48" x="143.52" y="94.176" style="fill: #1f77b4; fill-opacity: 0.5; stroke: #1f77b4; stroke-opacity: 0.5; stroke-width: 0.61"/>
<use href="#m430d65eb48" x="175.093867" y="119.88" style="fill: #1f77b4; fill-opacity: 0.5; stroke: #1f77b4; stroke-opacity: 0.5; stroke-width: 0.61"/>
<use href="#m430d65eb48" x="197.495882" y="137.352" style="fill: #1f77b4; fill-opacity: 0.5; stroke: #1f77b4; stroke-opacity: 0.5; stroke-width: 0.61"/>
<use href="#m430d65eb48" x="214.872235" y="150.792" style="fill: #1f77b4; fill-opacity: 0.5; stroke: #1f77b4; stroke-opacity: 0.5; stroke-width: 0.61"/>
<use href="#m430d65eb48" x="229.069749" y="161.832" style="fill: #1f77b4; fill-opacity: 0.5; stroke: #1f77b4; stroke-opacity: 0.5; stroke-width: 0.61"/>
<use href="#m430d65eb48" x="241.073577" y="171.024" style="fill: #1f77b4; fill-opacity: 0.5; stroke: #1f77b4; stroke-opacity: 0.5; stroke-width: 0.61"/>
<use href="#m430d65eb48" x="251.471765" y="178.944" style="fill: #1f77b4; fill-opacity: 0.5; stroke: #1f77b4; stroke-opacity: 0.5; stroke-width: 0.61"/>
<use href="#m430d65eb48" x="260.643617" y="186.168" style="fill: #1f77b4; fill-opacity: 0.5; stroke: #1f77b4; stroke-opacity: 0.5; stroke-width: 0.61"/>
<use href="#m430d65eb48" x="268.848118" y="192.432" style="fill: #1f77b4; fill-opacity: 0.5; stroke: #1f77b4; stroke-opacity: 0.5; stroke-width: 0.61"/>
<use href="#m430d65eb48" x="276.269992" y="197.952" style="fill: #1f77b4; fill-opacity: 0.5; stroke: #1f77b4; stroke-opacity: 0.5; stroke-width: 0.61"/>
<use href="#m430d65eb48" x="283.045632" y="203.232" style="fill: #1f77b4; fill-opacity: 0.5; stroke: #1f77b4; stroke-opacity: 0.5; stroke-width: 0.61"/>
<use href="#m430d65eb48" x="289.278616" y="208.032" style="fill: #1f77b4; fill-opacity: 0.5; stroke: #1f77b4; stroke-opacity: 0.5; stroke-width: 0.61"/>
<use href="#m430d65eb48" x="295.049459" y="212.352" style="fill: #1f77b4; fill-opacity: 0.5; stroke: #1f77b4; stroke-opacity: 0.5; stroke-width: 0.61"/>
<use href="#m430d65eb48" x="300.421985" y="216.432" style="fill: #1f77b4; fill-opacity: 0.5; stroke: #1f77b4; stroke-opacity: 0.5; stroke-width: 0.61"/>
<use href="#m430d65eb48" x="305.447647" y="220.248" style="fill: #1f77b4; fill-opacity: 0.5; stroke: #1f77b4; stroke-opacity: 0.5; stroke-width: 0.61"/>
<use href="#m430d65eb48" x="310.168531" y="223.872" style="fill: #1f77b4; fill-opacity: 0.5; stroke: #1f77b4; stroke-opacity: 0.5; stroke-width: 0.61"/>
<use href="#m430d65eb48" x="314.619499" y="227.352" style="fill: #1f77b4; fill-opacity: 0.5; stroke: #1f77b4; stroke-opacity: 0.5; stroke-width: 0.61"/>
<use href="#m430d65eb48" x="318.829753" y="230.568" style="fill: #1f77b4; fill-opacity: 0.5; stroke: #1f77b4; stroke-opacity: 0.5; stroke-width: 0.61"/>
<use href="#m430d65eb48" x="322.824" y="233.64" style="fill: #1f77b4; fill-opacity: 0.5; stroke: #1f77b4; stroke-opacity: 0.5; stroke-width: 0.61"/>
</g>
</g>
<g id="line2d_62">
<defs>
<path id="m526845c100" d="M 0 2.305 C 0.611293 2.305 1.197632 2.062131 1.629881 1.629881 C 2.062131 1.197632 2.305 0.611293 2.305 0 C 2.305 -0.611293 2.062131 -1.197632 1.629881 -1.629881 C 1.197632 -2.062131 0.611293 -2.305 0 -2.305 C -0.611293 -2.305 -1.197632 -2.062131 -1.629881 -1.629881 C -2.062131 -1.197632 -2.305 -0.611293 -2.305 0 C -2.305 0.611293 -2.062131 1.197632 -1.629881 1.629881 C -1.197632 2.062131 -0.611293 2.305 0 2.305 z
" style="stroke: #1f77b4; stroke-width: 0.98"/>
</defs>
<g clip-path="url(#p84a2641973)">
<use href="#m526845c100" x="89.544118" y="31.948145" style="fill-opacity: 0; stroke: #1f77b4; stroke-width: 0.98"/>
<use href="#m526845c100" x="143.52" y="75.708944" style="fill-opacity: 0; stroke: #1f77b4; stroke-width: 0.98"/>
<use href="#m526845c100" x="175.093867" y="98.988734" style="fill-opacity: 0; stroke: #1f77b4; stroke-width: 0.98"/>
<use href="#m526845c100" x="197.495882" y="115.000312" style="fill-opacity: 0; stroke: #1f77b4; stroke-width: 0.98"/>
<use href="#m526845c100" x="214.872235" y="127.316176" style="fill-opacity: 0; stroke: #1f77b4; stroke-width: 0.98"/>
<use href="#m526845c100" x="229.069749" y="137.318149" style="fill-opacity: 0; stroke: #1f77b4; stroke-width: 0.98"/>
<use href="#m526845c100" x="241.073577" y="145.749059" style="fill-opacity: 0; stroke: #1f77b4; stroke-width: 0.98"/>
<use href="#m526845c100" x="251.471765" y="153.015864" style="fill-opacity: 0; stroke: #1f77b4; stroke-width: 0.98"/>
<use href="#m526845c100" x="260.643617" y="159.672378" style="fill-opacity: 0; stroke: #1f77b4; stroke-width: 0.98"/>
<use href="#m526845c100" x="268.848118" y="165.507595" style="fill-opacity: 0; stroke: #1f77b4; stroke-width: 0.98"/>
<use href="#m526845c100" x="276.269992" y="170.822537" style="fill-opacity: 0; stroke: #1f77b4; stroke-width: 0.98"/>
<use href="#m526845c100" x="283.045632" y="175.793288" style="fill-opacity: 0; stroke: #1f77b4; stroke-width: 0.98"/>
<use href="#m526845c100" x="289.278616" y="180.250232" style="fill-opacity: 0; stroke: #1f77b4; stroke-width: 0.98"/>
<use href="#m526845c100" x="295.049459" y="184.462232" style="fill-opacity: 0; stroke: #1f77b4; stroke-width: 0.98"/>
<use href="#m526845c100" x="300.421985" y="188.449825" style="fill-opacity: 0; stroke: #1f77b4; stroke-width: 0.98"/>
<use href="#m526845c100" x="305.447647" y="192.072329" style="fill-opacity: 0; stroke: #1f77b4; stroke-width: 0.98"/>
<use href="#m526845c100" x="310.168531" y="195.700835" style="fill-opacity: 0; stroke: #1f77b4; stroke-width: 0.98"/>
<use href="#m526845c100" x="314.619499" y="199.042311" style="fill-opacity: 0; stroke: #1f77b4; stroke-width: 0.98"/>
<use href="#m526845c100" x="318.829753" y="202.168559" style="fill-opacity: 0; stroke: #1f77b4; stroke-width: 0.98"/>
<use href="#m526845c100" x="322.824" y="205.164471" style="fill-opacity: 0; stroke: #1f77b4; stroke-width: 0.98"/>
</g>
</g>
<g id="line2d_63">
<path d="M 89.544118 31.008 L 143.52 70.08 L 175.093867 88.536 L 197.495882 100.152 L 214.872235 108.288 L 229.069749 114.264 L 241.073577 118.872 L 251.471765 122.496 L 260.643617 125.496 L 268.848118 127.92 L 276.269992 130.032 L 283.045632 131.88 L 289.278616 133.368 L 295.049459 134.76 L 300.421985 136.008 L 305.447647 136.992 L 310.168531 137.928 L 314.619499 138.984 L 318.829753 139.824 L 322.824 140.64 " clip-path="url(#p84a2641973)" style="fill: none; stroke: #1f77b4; stroke-linecap: square"/>
</g>
<g id="line2d_64">
<defs>
<path id="mf8a66057e0" d="M -1.92 0 L 1.92 0 M 0 1.92 L 0 -1.92 " style="stroke: #ff7f0e; stroke-opacity: 0.5; stroke-width: 0.61"/>
</defs>
<g clip-path="url(#p84a2641973)">
<use href="#mf8a66057e0" x="89.544118" y="24.816" style="fill: #ff7f0e; fill-opacity: 0.5; stroke: #ff7f0e; stroke-opacity: 0.5; stroke-width: 0.61"/>
<use href="#mf8a66057e0" x="143.52" y="66.72" style="fill: #ff7f0e; fill-opacity: 0.5; stroke: #ff7f0e; stroke-opacity: 0.5; stroke-width: 0.61"/>
<use href="#mf8a66057e0" x="175.093867" y="89.088" style="fill: #ff7f0e; fill-opacity: 0.5; stroke: #ff7f0e; stroke-opacity: 0.5; stroke-width: 0.61"/>
<use href="#mf8a66057e0" x="197.495882" y="104.64" style="fill: #ff7f0e; fill-opacity: 0.5; stroke: #ff7f0e; stroke-opacity: 0.5; stroke-width: 0.61"/>
<use href="#mf8a66057e0" x="214.872235" y="116.424" style="fill: #ff7f0e; fill-opacity: 0.5; stroke: #ff7f0e; stroke-opacity: 0.5; stroke-width: 0.61"/>
<use href="#mf8a66057e0" x="229.069749" y="126.264" style="fill: #ff7f0e; fill-opacity: 0.5; stroke: #ff7f0e; stroke-opacity: 0.5; stroke-width: 0.61"/>
<use href="#mf8a66057e0" x="241.073577" y="134.4" style="fill: #ff7f0e; fill-opacity: 0.5; stroke: #ff7f0e; stroke-opacity: 0.5; stroke-width: 0.61"/>
<use href="#mf8a66057e0" x="251.471765" y="141.6" style="fill: #ff7f0e; fill-opacity: 0.5; stroke: #ff7f0e; stroke-opacity: 0.5; stroke-width: 0.61"/>
<use href="#mf8a66057e0" x="260.643617" y="148.092" style="fill: #ff7f0e; fill-opacity: 0.5; stroke: #ff7f0e; stroke-opacity: 0.5; stroke-width: 0.61"/>
<use href="#mf8a66057e0" x="268.848118" y="153.876" style="fill: #ff7f0e; fill-opacity: 0.5; stroke: #ff7f0e; stroke-opacity: 0.5; stroke-width: 0.61"/>
<use href="#mf8a66057e0" x="276.269992" y="159.168" style="fill: #ff7f0e; fill-opacity: 0.5; stroke: #ff7f0e; stroke-opacity: 0.5; stroke-width: 0.61"/>
<use href="#mf8a66057e0" x="283.045632" y="163.968" style="fill: #ff7f0e; fill-opacity: 0.5; stroke: #ff7f0e; stroke-opacity: 0.5; stroke-width: 0.61"/>
<use href="#mf8a66057e0" x="289.278616" y="168.276" style="fill: #ff7f0e; fill-opacity: 0.5; stroke: #ff7f0e; stroke-opacity: 0.5; stroke-width: 0.61"/>
<use href="#mf8a66057e0" x="295.049459" y="172.584" style="fill: #ff7f0e; fill-opacity: 0.5; stroke: #ff7f0e; stroke-opacity: 0.5; stroke-width: 0.61"/>
<use href="#mf8a66057e0" x="300.421985" y="176.4" style="fill: #ff7f0e; fill-opacity: 0.5; stroke: #ff7f0e; stroke-opacity: 0.5; stroke-width: 0.61"/>
<use href="#mf8a66057e0" x="305.447647" y="180" style="fill: #ff7f0e; fill-opacity: 0.5; stroke: #ff7f0e; stroke-opacity: 0.5; stroke-width: 0.61"/>
<use href="#mf8a66057e0" x="310.168531" y="183.624" style="fill: #ff7f0e; fill-opacity: 0.5; stroke: #ff7f0e; stroke-opacity: 0.5; stroke-width: 0.61"/>
<use href="#mf8a66057e0" x="314.619499" y="187.008" style="fill: #ff7f0e; fill-opacity: 0.5; stroke: #ff7f0e; stroke-opacity: 0.5; stroke-width: 0.61"/>
<use href="#mf8a66057e0" x="318.829753" y="190.104" style="fill: #ff7f0e; fill-opacity: 0.5; stroke: #ff7f0e; stroke-opacity: 0.5; stroke-width: 0.61"/>
<use href="#mf8a66057e0" x="322.824" y="193.08" style="fill: #ff7f0e; fill-opacity: 0.5; stroke: #ff7f0e; stroke-opacity: 0.5; stroke-width: 0.61"/>
</g>
</g>
<g id="line2d_65">
<defs>
<path id="m435a03e8d1" d="M -1.92 1.92 L 1.92 -1.92 M -1.92 -1.92 L 1.92 1.92 " style="stroke: #ff7f0e; stroke-opacity: 0.5; stroke-width: 0.61"/>
</defs>
<g clip-path="url(#p84a2641973)">
<use href="#m435a03e8d1" x="89.544118" y="24.816" style="fill: #ff7f0e; fill-opacity: 0.5; stroke: #ff7f0e; stroke-opacity: 0.5; stroke-width: 0.61"/>
<use href="#m435a03e8d1" x="143.52" y="66.72" style="fill: #ff7f0e; fill-opacity: 0.5; stroke: #ff7f0e; stroke-opacity: 0.5; stroke-width: 0.61"/>
<use href="#m435a03e8d1" x="175.093867" y="89.088" style="fill: #ff7f0e; fill-opacity: 0.5; stroke: #ff7f0e; stroke-opacity: 0.5; stroke-width: 0.61"/>
<use href="#m435a03e8d1" x="197.495882" y="104.64" style="fill: #ff7f0e; fill-opacity: 0.5; stroke: #ff7f0e; stroke-opacity: 0.5; stroke-width: 0.61"/>
<use href="#m435a03e8d1" x="214.872235" y="116.424" style="fill: #ff7f0e; fill-opacity: 0.5; stroke: #ff7f0e; stroke-opacity: 0.5; stroke-width: 0.61"/>
<use href="#m435a03e8d1" x="229.069749" y="126.264" style="fill: #ff7f0e; fill-opacity: 0.5; stroke: #ff7f0e; stroke-opacity: 0.5; stroke-width: 0.61"/>
<use href="#m435a03e8d1" x="241.073577" y="134.4" style="fill: #ff7f0e; fill-opacity: 0.5; stroke: #ff7f0e; stroke-opacity: 0.5; stroke-width: 0.61"/>
<use href="#m435a03e8d1" x="251.471765" y="141.6" style="fill: #ff7f0e; fill-opacity: 0.5; stroke: #ff7f0e; stroke-opacity: 0.5; stroke-width: 0.61"/>
<use href="#m435a03e8d1" x="260.643617" y="148.092" style="fill: #ff7f0e; fill-opacity: 0.5; stroke: #ff7f0e; stroke-opacity: 0.5; stroke-width: 0.61"/>
<use href="#m435a03e8d1" x="268.848118" y="153.876" style="fill: #ff7f0e; fill-opacity: 0.5; stroke: #ff7f0e; stroke-opacity: 0.5; stroke-width: 0.61"/>
<use href="#m435a03e8d1" x="276.269992" y="159.168" style="fill: #ff7f0e; fill-opacity: 0.5; stroke: #ff7f0e; stroke-opacity: 0.5; stroke-width: 0.61"/>
<use href="#m435a03e8d1" x="283.045632" y="163.968" style="fill: #ff7f0e; fill-opacity: 0.5; stroke: #ff7f0e; stroke-opacity: 0.5; stroke-width: 0.61"/>
<use href="#m435a03e8d1" x="289.278616" y="168.276" style="fill: #ff7f0e; fill-opacity: 0.5; stroke: #ff7f0e; stroke-opacity: 0.5; stroke-width: 0.61"/>
<use href="#m435a03e8d1" x="295.049459" y="172.584" style="fill: #ff7f0e; fill-opacity: 0.5; stroke: #ff7f0e; stroke-opacity: 0.5; stroke-width: 0.61"/>
<use href="#m435a03e8d1" x="300.421985" y="176.4" style="fill: #ff7f0e; fill-opacity: 0.5; stroke: #ff7f0e; stroke-opacity: 0.5; stroke-width: 0.61"/>
<use href="#m435a03e8d1" x="305.447647" y="180" style="fill: #ff7f0e; fill-opacity: 0.5; stroke: #ff7f0e; stroke-opacity: 0.5; stroke-width: 0.61"/>
<use href="#m435a03e8d1" x="310.168531" y="183.624" style="fill: #ff7f0e; fill-opacity: 0.5; stroke: #ff7f0e; stroke-opacity: 0.5; stroke-width: 0.61"/>
<use href="#m435a03e8d1" x="314.619499" y="187.008" style="fill: #ff7f0e; fill-opacity: 0.5; stroke: #ff7f0e; stroke-opacity: 0.5; stroke-width: 0.61"/>
<use href="#m435a03e8d1" x="318.829753" y="190.104" style="fill: #ff7f0e; fill-opacity: 0.5; stroke: #ff7f0e; stroke-opacity: 0.5; stroke-width: 0.61"/>
<use href="#m435a03e8d1" x="322.824" y="193.08" style="fill: #ff7f0e; fill-opacity: 0.5; stroke: #ff7f0e; stroke-opacity: 0.5; stroke-width: 0.61"/>
</g>
</g>
<g id="line2d_66">
<defs>
<path id="m034d8a3211" d="M 1.92 0 L -1.92 -0 " style="stroke: #ff7f0e; stroke-opacity: 0.5; stroke-width: 0.61"/>
</defs>
<g clip-path="url(#p84a2641973)">
<use href="#m034d8a3211" x="89.544118" y="46.176" style="fill: #ff7f0e; fill-opacity: 0.5; stroke: #ff7f0e; stroke-opacity: 0.5; stroke-width: 0.61"/>
<use href="#m034d8a3211" x="143.52" y="94.176" style="fill: #ff7f0e; fill-opacity: 0.5; stroke: #ff7f0e; stroke-opacity: 0.5; stroke-width: 0.61"/>
<use href="#m034d8a3211" x="175.093867" y="119.592" style="fill: #ff7f0e; fill-opacity: 0.5; stroke: #ff7f0e; stroke-opacity: 0.5; stroke-width: 0.61"/>
<use href="#m034d8a3211" x="197.495882" y="137.136" style="fill: #ff7f0e; fill-opacity: 0.5; stroke: #ff7f0e; stroke-opacity: 0.5; stroke-width: 0.61"/>
<use href="#m034d8a3211" x="214.872235" y="150.576" style="fill: #ff7f0e; fill-opacity: 0.5; stroke: #ff7f0e; stroke-opacity: 0.5; stroke-width: 0.61"/>
<use href="#m034d8a3211" x="229.069749" y="161.616" style="fill: #ff7f0e; fill-opacity: 0.5; stroke: #ff7f0e; stroke-opacity: 0.5; stroke-width: 0.61"/>
<use href="#m034d8a3211" x="241.073577" y="170.736" style="fill: #ff7f0e; fill-opacity: 0.5; stroke: #ff7f0e; stroke-opacity: 0.5; stroke-width: 0.61"/>
<use href="#m034d8a3211" x="251.471765" y="178.656" style="fill: #ff7f0e; fill-opacity: 0.5; stroke: #ff7f0e; stroke-opacity: 0.5; stroke-width: 0.61"/>
<use href="#m034d8a3211" x="260.643617" y="185.592" style="fill: #ff7f0e; fill-opacity: 0.5; stroke: #ff7f0e; stroke-opacity: 0.5; stroke-width: 0.61"/>
<use href="#m034d8a3211" x="268.848118" y="191.832" style="fill: #ff7f0e; fill-opacity: 0.5; stroke: #ff7f0e; stroke-opacity: 0.5; stroke-width: 0.61"/>
<use href="#m034d8a3211" x="276.269992" y="197.352" style="fill: #ff7f0e; fill-opacity: 0.5; stroke: #ff7f0e; stroke-opacity: 0.5; stroke-width: 0.61"/>
<use href="#m034d8a3211" x="283.045632" y="202.632" style="fill: #ff7f0e; fill-opacity: 0.5; stroke: #ff7f0e; stroke-opacity: 0.5; stroke-width: 0.61"/>
<use href="#m034d8a3211" x="289.278616" y="207.432" style="fill: #ff7f0e; fill-opacity: 0.5; stroke: #ff7f0e; stroke-opacity: 0.5; stroke-width: 0.61"/>
<use href="#m034d8a3211" x="295.049459" y="211.752" style="fill: #ff7f0e; fill-opacity: 0.5; stroke: #ff7f0e; stroke-opacity: 0.5; stroke-width: 0.61"/>
<use href="#m034d8a3211" x="300.421985" y="215.832" style="fill: #ff7f0e; fill-opacity: 0.5; stroke: #ff7f0e; stroke-opacity: 0.5; stroke-width: 0.61"/>
<use href="#m034d8a3211" x="305.447647" y="219.672" style="fill: #ff7f0e; fill-opacity: 0.5; stroke: #ff7f0e; stroke-opacity: 0.5; stroke-width: 0.61"/>
<use href="#m034d8a3211" x="310.168531" y="223.296" style="fill: #ff7f0e; fill-opacity: 0.5; stroke: #ff7f0e; stroke-opacity: 0.5; stroke-width: 0.61"/>
<use href="#m034d8a3211" x="314.619499" y="226.656" style="fill: #ff7f0e; fill-opacity: 0.5; stroke: #ff7f0e; stroke-opacity: 0.5; stroke-width: 0.61"/>
<use href="#m034d8a3211" x="318.829753" y="230.016" style="fill: #ff7f0e; fill-opacity: 0.5; stroke: #ff7f0e; stroke-opacity: 0.5; stroke-width: 0.61"/>
<use href="#m034d8a3211" x="322.824" y="232.896" style="fill: #ff7f0e; fill-opacity: 0.5; stroke: #ff7f0e; stroke-opacity: 0.5; stroke-width: 0.61"/>
</g>
</g>
<g id="line2d_67">
<defs>
<path id="m2fbdcbfac0" d="M 0 2.305 C 0.611293 2.305 1.197632 2.062131 1.629881 1.629881 C 2.062131 1.197632 2.305 0.611293 2.305 0 C 2.305 -0.611293 2.062131 -1.197632 1.629881 -1.629881 C 1.197632 -2.062131 0.611293 -2.305 0 -2.305 C -0.611293 -2.305 -1.197632 -2.062131 -1.629881 -1.629881 C -2.062131 -1.197632 -2.305 -0.611293 -2.305 0 C -2.305 0.611293 -2.062131 1.197632 -1.629881 1.629881 C -1.197632 2.062131 -0.611293 2.305 0 2.305 z
" style="stroke: #ff7f0e; stroke-width: 0.98"/>
</defs>
<g clip-path="url(#p84a2641973)">
<use href="#m2fbdcbfac0" x="89.544118" y="31.199199" style="fill-opacity: 0; stroke: #ff7f0e; stroke-width: 0.98"/>
<use href="#m2fbdcbfac0" x="143.52" y="74.548339" style="fill-opacity: 0; stroke: #ff7f0e; stroke-width: 0.98"/>
<use href="#m2fbdcbfac0" x="175.093867" y="97.731505" style="fill-opacity: 0; stroke: #ff7f0e; stroke-width: 0.98"/>
<use href="#m2fbdcbfac0" x="197.495882" y="113.642771" style="fill-opacity: 0; stroke: #ff7f0e; stroke-width: 0.98"/>
<use href="#m2fbdcbfac0" x="214.872235" y="125.851302" style="fill-opacity: 0; stroke: #ff7f0e; stroke-width: 0.98"/>
<use href="#m2fbdcbfac0" x="229.069749" y="135.91856" style="fill-opacity: 0; stroke: #ff7f0e; stroke-width: 0.98"/>
<use href="#m2fbdcbfac0" x="241.073577" y="144.316667" style="fill-opacity: 0; stroke: #ff7f0e; stroke-width: 0.98"/>
<use href="#m2fbdcbfac0" x="251.471765" y="151.713445" style="fill-opacity: 0; stroke: #ff7f0e; stroke-width: 0.98"/>
<use href="#m2fbdcbfac0" x="260.643617" y="158.23443" style="fill-opacity: 0; stroke: #ff7f0e; stroke-width: 0.98"/>
<use href="#m2fbdcbfac0" x="268.848118" y="164.0664" style="fill-opacity: 0; stroke: #ff7f0e; stroke-width: 0.98"/>
<use href="#m2fbdcbfac0" x="276.269992" y="169.376277" style="fill-opacity: 0; stroke: #ff7f0e; stroke-width: 0.98"/>
<use href="#m2fbdcbfac0" x="283.045632" y="174.370311" style="fill-opacity: 0; stroke: #ff7f0e; stroke-width: 0.98"/>
<use href="#m2fbdcbfac0" x="289.278616" y="178.831267" style="fill-opacity: 0; stroke: #ff7f0e; stroke-width: 0.98"/>
<use href="#m2fbdcbfac0" x="295.049459" y="183.026505" style="fill-opacity: 0; stroke: #ff7f0e; stroke-width: 0.98"/>
<use href="#m2fbdcbfac0" x="300.421985" y="187.001707" style="fill-opacity: 0; stroke: #ff7f0e; stroke-width: 0.98"/>
<use href="#m2fbdcbfac0" x="305.447647" y="190.626353" style="fill-opacity: 0; stroke: #ff7f0e; stroke-width: 0.98"/>
<use href="#m2fbdcbfac0" x="310.168531" y="194.262353" style="fill-opacity: 0; stroke: #ff7f0e; stroke-width: 0.98"/>
<use href="#m2fbdcbfac0" x="314.619499" y="197.607892" style="fill-opacity: 0; stroke: #ff7f0e; stroke-width: 0.98"/>
<use href="#m2fbdcbfac0" x="318.829753" y="200.766921" style="fill-opacity: 0; stroke: #ff7f0e; stroke-width: 0.98"/>
<use href="#m2fbdcbfac0" x="322.824" y="203.649103" style="fill-opacity: 0; stroke: #ff7f0e; stroke-width: 0.98"/>
</g>
</g>
<g id="line2d_68">
<path d="M 89.544118 29.76 L 143.52 68.4 L 175.093867 86.64 L 197.495882 98.016 L 214.872235 105.936 L 229.069749 111.792 L 241.073577 116.232 L 251.471765 119.76 L 260.643617 122.664 L 268.848118 125.112 L 276.269992 127.152 L 283.045632 128.832 L 289.278616 130.32 L 295.049459 131.688 L 300.421985 132.864 L 305.447647 133.896 L 310.168531 134.832 L 314.619499 135.624 L 318.829753 136.416 L 322.824 137.184 " clip-path="url(#p84a2641973)" style="fill: none; stroke: #ff7f0e; stroke-linecap: square"/>
</g>
<g id="line2d_69">
<defs>
<path id="mb892394cd7" d="M -1.92 0 L 1.92 0 M 0 1.92 L 0 -1.92 " style="stroke: #2ca02c; stroke-opacity: 0.5; stroke-width: 0.61"/>
</defs>
<g clip-path="url(#p84a2641973)">
<use href="#mb892394cd7" x="89.544118" y="29.808" style="fill: #2ca02c; fill-opacity: 0.5; stroke: #2ca02c; stroke-opacity: 0.5; stroke-width: 0.61"/>
<use href="#mb892394cd7" x="143.52" y="71.16" style="fill: #2ca02c; fill-opacity: 0.5; stroke: #2ca02c; stroke-opacity: 0.5; stroke-width: 0.61"/>
<use href="#mb892394cd7" x="175.093867" y="93.432" style="fill: #2ca02c; fill-opacity: 0.5; stroke: #2ca02c; stroke-opacity: 0.5; stroke-width: 0.61"/>
<use href="#mb892394cd7" x="197.495882" y="109.056" style="fill: #2ca02c; fill-opacity: 0.5; stroke: #2ca02c; stroke-opacity: 0.5; stroke-width: 0.61"/>
<use href="#mb892394cd7" x="214.872235" y="121.056" style="fill: #2ca02c; fill-opacity: 0.5; stroke: #2ca02c; stroke-opacity: 0.5; stroke-width: 0.61"/>
<use href="#mb892394cd7" x="229.069749" y="130.632" style="fill: #2ca02c; fill-opacity: 0.5; stroke: #2ca02c; stroke-opacity: 0.5; stroke-width: 0.61"/>
<use href="#mb892394cd7" x="241.073577" y="138.816" style="fill: #2ca02c; fill-opacity: 0.5; stroke: #2ca02c; stroke-opacity: 0.5; stroke-width: 0.61"/>
<use href="#mb892394cd7" x="251.471765" y="146.016" style="fill: #2ca02c; fill-opacity: 0.5; stroke: #2ca02c; stroke-opacity: 0.5; stroke-width: 0.61"/>
<use href="#mb892394cd7" x="260.643617" y="152.52" style="fill: #2ca02c; fill-opacity: 0.5; stroke: #2ca02c; stroke-opacity: 0.5; stroke-width: 0.61"/>
<use href="#mb892394cd7" x="268.848118" y="158.256" style="fill: #2ca02c; fill-opacity: 0.5; stroke: #2ca02c; stroke-opacity: 0.5; stroke-width: 0.61"/>
<use href="#mb892394cd7" x="276.269992" y="163.344" style="fill: #2ca02c; fill-opacity: 0.5; stroke: #2ca02c; stroke-opacity: 0.5; stroke-width: 0.61"/>
<use href="#mb892394cd7" x="283.045632" y="168.336" style="fill: #2ca02c; fill-opacity: 0.5; stroke: #2ca02c; stroke-opacity: 0.5; stroke-width: 0.61"/>
<use href="#mb892394cd7" x="289.278616" y="172.656" style="fill: #2ca02c; fill-opacity: 0.5; stroke: #2ca02c; stroke-opacity: 0.5; stroke-width: 0.61"/>
<use href="#mb892394cd7" x="295.049459" y="176.976" style="fill: #2ca02c; fill-opacity: 0.5; stroke: #2ca02c; stroke-opacity: 0.5; stroke-width: 0.61"/>
<use href="#mb892394cd7" x="300.421985" y="180.792" style="fill: #2ca02c; fill-opacity: 0.5; stroke: #2ca02c; stroke-opacity: 0.5; stroke-width: 0.61"/>
<use href="#mb892394cd7" x="305.447647" y="184.392" style="fill: #2ca02c; fill-opacity: 0.5; stroke: #2ca02c; stroke-opacity: 0.5; stroke-width: 0.61"/>
<use href="#mb892394cd7" x="310.168531" y="187.992" style="fill: #2ca02c; fill-opacity: 0.5; stroke: #2ca02c; stroke-opacity: 0.5; stroke-width: 0.61"/>
<use href="#mb892394cd7" x="314.619499" y="191.328" style="fill: #2ca02c; fill-opacity: 0.5; stroke: #2ca02c; stroke-opacity: 0.5; stroke-width: 0.61"/>
<use href="#mb892394cd7" x="318.829753" y="194.232" style="fill: #2ca02c; fill-opacity: 0.5; stroke: #2ca02c; stroke-opacity: 0.5; stroke-width: 0.61"/>
<use href="#mb892394cd7" x="322.824" y="197.28" style="fill: #2ca02c; fill-opacity: 0.5; stroke: #2ca02c; stroke-opacity: 0.5; stroke-width: 0.61"/>
</g>
</g>
<g id="line2d_70">
<defs>
<path id="m66128a72b1" d="M -1.92 1.92 L 1.92 -1.92 M -1.92 -1.92 L 1.92 1.92 " style="stroke: #2ca02c; stroke-opacity: 0.5; stroke-width: 0.61"/>
</defs>
<g clip-path="url(#p84a2641973)">
<use href="#m66128a72b1" x="89.544118" y="29.808" style="fill: #2ca02c; fill-opacity: 0.5; stroke: #2ca02c; stroke-opacity: 0.5; stroke-width: 0.61"/>
<use href="#m66128a72b1" x="143.52" y="71.16" style="fill: #2ca02c; fill-opacity: 0.5; stroke: #2ca02c; stroke-opacity: 0.5; stroke-width: 0.61"/>
<use href="#m66128a72b1" x="175.093867" y="93.432" style="fill: #2ca02c; fill-opacity: 0.5; stroke: #2ca02c; stroke-opacity: 0.5; stroke-width: 0.61"/>
<use href="#m66128a72b1" x="197.495882" y="109.056" style="fill: #2ca02c; fill-opacity: 0.5; stroke: #2ca02c; stroke-opacity: 0.5; stroke-width: 0.61"/>
<use href="#m66128a72b1" x="214.872235" y="121.056" style="fill: #2ca02c; fill-opacity: 0.5; stroke: #2ca02c; stroke-opacity: 0.5; stroke-width: 0.61"/>
<use href="#m66128a72b1" x="229.069749" y="130.632" style="fill: #2ca02c; fill-opacity: 0.5; stroke: #2ca02c; stroke-opacity: 0.5; stroke-width: 0.61"/>
<use href="#m66128a72b1" x="241.073577" y="138.816" style="fill: #2ca02c; fill-opacity: 0.5; stroke: #2ca02c; stroke-opacity: 0.5; stroke-width: 0.61"/>
<use href="#m66128a72b1" x="251.471765" y="146.016" style="fill: #2ca02c; fill-opacity: 0.5; stroke: #2ca02c; stroke-opacity: 0.5; stroke-width: 0.61"/>
<use href="#m66128a72b1" x="260.643617" y="152.52" style="fill: #2ca02c; fill-opacity: 0.5; stroke: #2ca02c; stroke-opacity: 0.5; stroke-width: 0.61"/>
<use href="#m66128a72b1" x="268.848118" y="158.256" style="fill: #2ca02c; fill-opacity: 0.5; stroke: #2ca02c; stroke-opacity: 0.5; stroke-width: 0.61"/>
<use href="#m66128a72b1" x="276.269992" y="163.344" style="fill: #2ca02c; fill-opacity: 0.5; stroke: #2ca02c; stroke-opacity: 0.5; stroke-width: 0.61"/>
<use href="#m66128a72b1" x="283.045632" y="168.336" style="fill: #2ca02c; fill-opacity: 0.5; stroke: #2ca02c; stroke-opacity: 0.5; stroke-width: 0.61"/>
<use href="#m66128a72b1" x="289.278616" y="172.656" style="fill: #2ca02c; fill-opacity: 0.5; stroke: #2ca02c; stroke-opacity: 0.5; stroke-width: 0.61"/>
<use href="#m66128a72b1" x="295.049459" y="176.976" style="fill: #2ca02c; fill-opacity: 0.5; stroke: #2ca02c; stroke-opacity: 0.5; stroke-width: 0.61"/>
<use href="#m66128a72b1" x="300.421985" y="180.792" style="fill: #2ca02c; fill-opacity: 0.5; stroke: #2ca02c; stroke-opacity: 0.5; stroke-width: 0.61"/>
<use href="#m66128a72b1" x="305.447647" y="184.392" style="fill: #2ca02c; fill-opacity: 0.5; stroke: #2ca02c; stroke-opacity: 0.5; stroke-width: 0.61"/>
<use href="#m66128a72b1" x="310.168531" y="187.992" style="fill: #2ca02c; fill-opacity: 0.5; stroke: #2ca02c; stroke-opacity: 0.5; stroke-width: 0.61"/>
<use href="#m66128a72b1" x="314.619499" y="191.328" style="fill: #2ca02c; fill-opacity: 0.5; stroke: #2ca02c; stroke-opacity: 0.5; stroke-width: 0.61"/>
<use href="#m66128a72b1" x="318.829753" y="194.232" style="fill: #2ca02c; fill-opacity: 0.5; stroke: #2ca02c; stroke-opacity: 0.5; stroke-width: 0.61"/>
<use href="#m66128a72b1" x="322.824" y="197.28" style="fill: #2ca02c; fill-opacity: 0.5; stroke: #2ca02c; stroke-opacity: 0.5; stroke-width: 0.61"/>
</g>
</g>
<g id="line2d_71">
<defs>
<path id="mba60c3b290" d="M 1.92 0 L -1.92 -0 " style="stroke: #2ca02c; stroke-opacity: 0.5; stroke-width: 0.61"/>
</defs>
<g clip-path="url(#p84a2641973)">
<use href="#mba60c3b290" x="89.544118" y="42.6" style="fill: #2ca02c; fill-opacity: 0.5; stroke: #2ca02c; stroke-opacity: 0.5; stroke-width: 0.61"/>
<use href="#mba60c3b290" x="143.52" y="90.36" style="fill: #2ca02c; fill-opacity: 0.5; stroke: #2ca02c; stroke-opacity: 0.5; stroke-width: 0.61"/>
<use href="#mba60c3b290" x="175.093867" y="116.016" style="fill: #2ca02c; fill-opacity: 0.5; stroke: #2ca02c; stroke-opacity: 0.5; stroke-width: 0.61"/>
<use href="#mba60c3b290" x="197.495882" y="133.536" style="fill: #2ca02c; fill-opacity: 0.5; stroke: #2ca02c; stroke-opacity: 0.5; stroke-width: 0.61"/>
<use href="#mba60c3b290" x="214.872235" y="146.976" style="fill: #2ca02c; fill-opacity: 0.5; stroke: #2ca02c; stroke-opacity: 0.5; stroke-width: 0.61"/>
<use href="#mba60c3b290" x="229.069749" y="157.776" style="fill: #2ca02c; fill-opacity: 0.5; stroke: #2ca02c; stroke-opacity: 0.5; stroke-width: 0.61"/>
<use href="#mba60c3b290" x="241.073577" y="166.896" style="fill: #2ca02c; fill-opacity: 0.5; stroke: #2ca02c; stroke-opacity: 0.5; stroke-width: 0.61"/>
<use href="#mba60c3b290" x="251.471765" y="174.816" style="fill: #2ca02c; fill-opacity: 0.5; stroke: #2ca02c; stroke-opacity: 0.5; stroke-width: 0.61"/>
<use href="#mba60c3b290" x="260.643617" y="181.776" style="fill: #2ca02c; fill-opacity: 0.5; stroke: #2ca02c; stroke-opacity: 0.5; stroke-width: 0.61"/>
<use href="#mba60c3b290" x="268.848118" y="188.016" style="fill: #2ca02c; fill-opacity: 0.5; stroke: #2ca02c; stroke-opacity: 0.5; stroke-width: 0.61"/>
<use href="#mba60c3b290" x="276.269992" y="193.776" style="fill: #2ca02c; fill-opacity: 0.5; stroke: #2ca02c; stroke-opacity: 0.5; stroke-width: 0.61"/>
<use href="#mba60c3b290" x="283.045632" y="198.816" style="fill: #2ca02c; fill-opacity: 0.5; stroke: #2ca02c; stroke-opacity: 0.5; stroke-width: 0.61"/>
<use href="#mba60c3b290" x="289.278616" y="203.616" style="fill: #2ca02c; fill-opacity: 0.5; stroke: #2ca02c; stroke-opacity: 0.5; stroke-width: 0.61"/>
<use href="#mba60c3b290" x="295.049459" y="207.936" style="fill: #2ca02c; fill-opacity: 0.5; stroke: #2ca02c; stroke-opacity: 0.5; stroke-width: 0.61"/>
<use href="#mba60c3b290" x="300.421985" y="212.016" style="fill: #2ca02c; fill-opacity: 0.5; stroke: #2ca02c; stroke-opacity: 0.5; stroke-width: 0.61"/>
<use href="#mba60c3b290" x="305.447647" y="215.856" style="fill: #2ca02c; fill-opacity: 0.5; stroke: #2ca02c; stroke-opacity: 0.5; stroke-width: 0.61"/>
<use href="#mba60c3b290" x="310.168531" y="219.48" style="fill: #2ca02c; fill-opacity: 0.5; stroke: #2ca02c; stroke-opacity: 0.5; stroke-width: 0.61"/>
<use href="#mba60c3b290" x="314.619499" y="223.056" style="fill: #2ca02c; fill-opacity: 0.5; stroke: #2ca02c; stroke-opacity: 0.5; stroke-width: 0.61"/>
<use href="#mba60c3b290" x="318.829753" y="226.176" style="fill: #2ca02c; fill-opacity: 0.5; stroke: #2ca02c; stroke-opacity: 0.5; stroke-width: 0.61"/>
<use href="#mba60c3b290" x="322.824" y="229.32" style="fill: #2ca02c; fill-opacity: 0.5; stroke: #2ca02c; stroke-opacity: 0.5; stroke-width: 0.61"/>
</g>
</g>
<g id="line2d_72">
<defs>
<path id="mf1075eed4e" d="M 0 2.305 C 0.611293 2.305 1.197632 2.062131 1.629881 1.629881 C 2.062131 1.197632 2.305 0.611293 2.305 0 C 2.305 -0.611293 2.062131 -1.197632 1.629881 -1.629881 C 1.197632 -2.062131 0.611293 -2.305 0 -2.305 C -0.611293 -2.305 -1.197632 -2.062131 -1.629881 -1.629881 C -2.062131 -1.197632 -2.305 -0.611293 -2.305 0 C -2.305 0.611293 -2.062131 1.197632 -1.629881 1.629881 C -1.197632 2.062131 -0.611293 2.305 0 2.305 z
" style="stroke: #2ca02c; stroke-width: 0.98"/>
</defs>
<g clip-path="url(#p84a2641973)">
<use href="#mf1075eed4e" x="89.544118" y="33.808116" style="fill-opacity: 0; stroke: #2ca02c; stroke-width: 0.98"/>
<use href="#mf1075eed4e" x="143.52" y="76.89937" style="fill-opacity: 0; stroke: #2ca02c; stroke-width: 0.98"/>
<use href="#mf1075eed4e" x="175.093867" y="100.104709" style="fill-opacity: 0; stroke: #2ca02c; stroke-width: 0.98"/>
<use href="#mf1075eed4e" x="197.495882" y="116.232011" style="fill-opacity: 0; stroke: #2ca02c; stroke-width: 0.98"/>
<use href="#mf1075eed4e" x="214.872235" y="128.554004" style="fill-opacity: 0; stroke: #2ca02c; stroke-width: 0.98"/>
<use href="#mf1075eed4e" x="229.069749" y="138.374782" style="fill-opacity: 0; stroke: #2ca02c; stroke-width: 0.98"/>
<use href="#mf1075eed4e" x="241.073577" y="146.899008" style="fill-opacity: 0; stroke: #2ca02c; stroke-width: 0.98"/>
<use href="#mf1075eed4e" x="251.471765" y="154.196432" style="fill-opacity: 0; stroke: #2ca02c; stroke-width: 0.98"/>
<use href="#mf1075eed4e" x="260.643617" y="160.742131" style="fill-opacity: 0; stroke: #2ca02c; stroke-width: 0.98"/>
<use href="#mf1075eed4e" x="268.848118" y="166.669119" style="fill-opacity: 0; stroke: #2ca02c; stroke-width: 0.98"/>
<use href="#mf1075eed4e" x="276.269992" y="171.919181" style="fill-opacity: 0; stroke: #2ca02c; stroke-width: 0.98"/>
<use href="#mf1075eed4e" x="283.045632" y="176.856731" style="fill-opacity: 0; stroke: #2ca02c; stroke-width: 0.98"/>
<use href="#mf1075eed4e" x="289.278616" y="181.328045" style="fill-opacity: 0; stroke: #2ca02c; stroke-width: 0.98"/>
<use href="#mf1075eed4e" x="295.049459" y="185.636045" style="fill-opacity: 0; stroke: #2ca02c; stroke-width: 0.98"/>
<use href="#mf1075eed4e" x="300.421985" y="189.530322" style="fill-opacity: 0; stroke: #2ca02c; stroke-width: 0.98"/>
<use href="#mf1075eed4e" x="305.447647" y="193.253758" style="fill-opacity: 0; stroke: #2ca02c; stroke-width: 0.98"/>
<use href="#mf1075eed4e" x="310.168531" y="196.880497" style="fill-opacity: 0; stroke: #2ca02c; stroke-width: 0.98"/>
<use href="#mf1075eed4e" x="314.619499" y="200.18384" style="fill-opacity: 0; stroke: #2ca02c; stroke-width: 0.98"/>
<use href="#mf1075eed4e" x="318.829753" y="203.208377" style="fill-opacity: 0; stroke: #2ca02c; stroke-width: 0.98"/>
<use href="#mf1075eed4e" x="322.824" y="206.18252" style="fill-opacity: 0; stroke: #2ca02c; stroke-width: 0.98"/>
</g>
</g>
<g id="line2d_73">
<path d="M 89.544118 30.048 L 143.52 68.688 L 175.093867 86.568 L 197.495882 97.824 L 214.872235 105.6 L 229.069749 111.312 L 241.073577 115.704 L 251.471765 119.184 L 260.643617 122.064 L 268.848118 124.488 L 276.269992 126.504 L 283.045632 128.136 L 289.278616 129.6 L 295.049459 130.968 L 300.421985 131.976 L 305.447647 132.96 L 310.168531 133.848 L 314.619499 134.832 L 318.829753 135.648 L 322.824 136.428 " clip-path="url(#p84a2641973)" style="fill: none; stroke: #2ca02c; stroke-linecap: square"/>
</g>
<g id="patch_3">
<path d="M 77.76 243.84 L 77.76 14.4 " style="fill: none; stroke: #000000; stroke-width: 0.96; stroke-linejoin: miter; stroke-linecap: square"/>
</g>
<g id="patch_4">
<path d="M 334.56 243.84 L 334.56 14.4 " style="fill: none; stroke: #000000; stroke-width: 0.96; stroke-linejoin: miter; stroke-linecap: square"/>
</g>
<g id="patch_5">
<path d="M 77.76 243.84 L 334.56 243.84 " style="fill: none; stroke: #000000; stroke-width: 0.96; stroke-linejoin: miter; stroke-linecap: square"/>
</g>
<g id="patch_6">
<path d="M 77.76 14.4 L 334.56 14.4 " style="fill: none; stroke: #000000; stroke-width: 0.96; stroke-linejoin: miter; stroke-linecap: square"/>
</g>
<g id="legend" transform="translate(0.000 -0.528)">
<g id="legframe">
<path d="M 82.800 239.280 L 177.600 239.280 L 177.600 122.928 L 82.800 122.928 z" style="fill: #ffffff; stroke: #808080; stroke-width: 0.4; stroke-linejoin: miter"/>
</g>
<g id="line2d_74">
<g>
<use href="#mce99f1e8fa" x="91.76" y="131.9" style="fill: #1f77b4; fill-opacity: 0.5; stroke: #1f77b4; stroke-opacity: 0.5; stroke-width: 0.61"/>
</g>
</g>
<g id="lt0" transform="translate(0.000 -0.480)">
<g transform="translate(100.76 135.4) scale(0.1 -0.1)">
<defs>
<path id="DejaVuSans-3ba" d="M 597 3500 L 1191 3500 L 1191 2047 L 2700 3500 L 3400 3500 L 2022 2181 L 3616 0 L 2913 0 L 1619 1806 L 1191 1403 L 1191 0 L 597 0 L 597 3500 z
" transform="scale(0.015625)"/>
<path id="DejaVuSans-78" d="M 3513 3500 L 2247 1797 L 3578 0 L 2900 0 L 1881 1375 L 863 0 L 184 0 L 1544 1831 L 300 3500 L 978 3500 L 1906 2253 L 2834 3500 L 3513 3500 z
" transform="scale(0.015625)"/>
</defs>
<use href="#DejaVuSans-3ba" transform="translate(0 0.4375)"/>
<use href="#DejaVuSans-78" transform="translate(59.892578 38.71875) scale(0.7)"/>
<use href="#DejaVuSans-78" transform="translate(101.318359 38.71875) scale(0.7)"/>
<use href="#DejaVuSans-70" transform="translate(59.892578 -26.90625) scale(0.7)"/>
</g>
</g>
<g id="line2d_75">
<g>
<use href="#m99b13dde95" x="91.76" y="147.79" style="fill: #1f77b4; fill-opacity: 0.5; stroke: #1f77b4; stroke-opacity: 0.5; stroke-width: 0.61"/>
</g>
</g>
<g id="lt1" transform="translate(0.000 -0.480)">
<g transform="translate(100.76 151.29) scale(0.1 -0.1)">
<use href="#DejaVuSans-3ba" transform="translate(0 0.804688)"/>
<use href="#DejaVuSans-79" transform="translate(59.892578 39.71875) scale(0.7)"/>
<use href="#DejaVuSans-79" transform="translate(101.318359 39.71875) scale(0.7)"/>
<use href="#DejaVuSans-70" transform="translate(59.892578 -26.539062) scale(0.7)"/>
</g>
</g>
<g id="line2d_76">
<g>
<use href="#m430d65eb48" x="91.76" y="163.58" style="fill: #1f77b4; fill-opacity: 0.5; stroke: #1f77b4; stroke-opacity: 0.5; stroke-width: 0.61"/>
</g>
</g>
<g id="lt2" transform="translate(0.000 -0.480)">
<g transform="translate(100.76 167.08) scale(0.1 -0.1)">
<defs>
<path id="DejaVuSans-7a" d="M 353 3500 L 3084 3500 L 3084 2975 L 922 459 L 3084 459 L 3084 0 L 275 0 L 275 525 L 2438 3041 L 353 3041 L 353 3500 z
" transform="scale(0.015625)"/>
</defs>
<use href="#DejaVuSans-3ba" transform="translate(0 0.4375)"/>
<use href="#DejaVuSans-7a" transform="translate(59.892578 38.71875) scale(0.7)"/>
<use href="#DejaVuSans-7a" transform="translate(96.635742 38.71875) scale(0.7)"/>
<use href="#DejaVuSans-70" transform="translate(59.892578 -26.90625) scale(0.7)"/>
</g>
</g>
<g id="line2d_77">
<g>
<use href="#m526845c100" x="91.76" y="179.47" style="fill-opacity: 0; stroke: #1f77b4; stroke-width: 0.98"/>
</g>
</g>
<g id="lt3" transform="translate(0.000 -0.480)">
<g transform="translate(100.76 182.97) scale(0.1 -0.1)">
<use href="#DejaVuSans-3ba" transform="translate(0 0.51875)"/>
<use href="#DejaVuSans-61" transform="translate(59.892578 38.8) scale(0.7)"/>
<use href="#DejaVuSans-76" transform="translate(102.788086 38.8) scale(0.7)"/>
<use href="#DejaVuSans-65" transform="translate(144.213867 38.8) scale(0.7)"/>
<use href="#DejaVuSans-70" transform="translate(59.892578 -26.825) scale(0.7)"/>
</g>
</g>
<g id="line2d_78">
<path d="M 86.76 195.36 L 91.76 195.36 L 96.76 195.36 " style="fill: none; stroke: #1f77b4; stroke-linecap: square"/>
</g>
<g id="lt4" transform="translate(0.000 -0.240)">
<g transform="translate(100.76 198.86) scale(0.1 -0.1)">
<defs>
<path id="DejaVuSans-2b" d="M 2944 4013 L 2944 2272 L 4684 2272 L 4684 1741 L 2944 1741 L 2944 0 L 2419 0 L 2419 1741 L 678 1741 L 678 2272 L 2419 2272 L 2419 4013 L 2944 4013 z
" transform="scale(0.015625)"/>
<path id="DejaVuSans-2c" d="M 750 794 L 1409 794 L 1409 256 L 897 -744 L 494 -744 L 750 256 L 750 794 z
" transform="scale(0.015625)"/>
<path id="DejaVuSans-37" d="M 525 4666 L 3525 4666 L 3525 4397 L 1831 0 L 1172 0 L 2766 4134 L 525 4134 L 525 4666 z
" transform="scale(0.015625)"/>
<path id="DejaVuSans-36" d="M 2113 2584 Q 1688 2584 1439 2293 Q 1191 2003 1191 1497 Q 1191 994 1439 701 Q 1688 409 2113 409 Q 2538 409 2786 701 Q 3034 994 3034 1497 Q 3034 2003 2786 2293 Q 2538 2584 2113 2584 z
M 3366 4563 L 3366 3988 Q 3128 4100 2886 4159 Q 2644 4219 2406 4219 Q 1781 4219 1451 3797 Q 1122 3375 1075 2522 Q 1259 2794 1537 2939 Q 1816 3084 2150 3084 Q 2853 3084 3261 2657 Q 3669 2231 3669 1497 Q 3669 778 3244 343 Q 2819 -91 2113 -91 Q 1303 -91 875 529 Q 447 1150 447 2328 Q 447 3434 972 4092 Q 1497 4750 2381 4750 Q 2619 4750 2861 4703 Q 3103 4656 3366 4563 z
" transform="scale(0.015625)"/>
</defs>
<use href="#DejaVuSans-3ba" transform="translate(0 0.51875)"/>
<use href="#DejaVuSans-61" transform="translate(59.892578 38.8) scale(0.7)"/>
<use href="#DejaVuSans-76" transform="translate(102.788086 38.8) scale(0.7)"/>
<use href="#DejaVuSans-65" transform="translate(144.213867 38.8) scale(0.7)"/>
<use href="#DejaVuSans-70" transform="translate(59.892578 -26.825) scale(0.7)"/>
<use href="#DejaVuSans-2b" transform="translate(117.963867 -26.825) scale(0.7)"/>
<use href="#DejaVuSans-63" transform="translate(190.253906 -26.825) scale(0.7)"/>
<use href="#DejaVuSans-2c" transform="translate(231.474609 0.51875)"/>
<use href="#DejaVuSans-20" transform="translate(263.261719 0.51875)"/>
<use href="#DejaVuSans-37" transform="translate(295.048828 0.51875)"/>
<use href="#DejaVuSans-78" transform="translate(358.671875 0.51875)"/>
<use href="#DejaVuSans-37" transform="translate(417.851562 0.51875)"/>
<use href="#DejaVuSans-78" transform="translate(481.474609 0.51875)"/>
<use href="#DejaVuSans-36" transform="translate(540.654297 0.51875)"/>
</g>
</g>
<g id="line2d_79">
<path d="M 86.76 211.25 L 91.76 211.25 L 96.76 211.25 " style="fill: none; stroke: #ff7f0e; stroke-linecap: square"/>
</g>
<g id="lt5" transform="translate(0.000 -0.240)">
<g transform="translate(100.76 214.75) scale(0.1 -0.1)">
<defs>
<path id="DejaVuSans-39" d="M 703 97 L 703 672 Q 941 559 1184 500 Q 1428 441 1663 441 Q 2288 441 2617 861 Q 2947 1281 2994 2138 Q 2813 1869 2534 1725 Q 2256 1581 1919 1581 Q 1219 1581 811 2004 Q 403 2428 403 3163 Q 403 3881 828 4315 Q 1253 4750 1959 4750 Q 2769 4750 3195 4129 Q 3622 3509 3622 2328 Q 3622 1225 3098 567 Q 2575 -91 1691 -91 Q 1453 -91 1209 -44 Q 966 3 703 97 z
M 1959 2075 Q 2384 2075 2632 2365 Q 2881 2656 2881 3163 Q 2881 3666 2632 3958 Q 2384 4250 1959 4250 Q 1534 4250 1286 3958 Q 1038 3666 1038 3163 Q 1038 2656 1286 2365 Q 1534 2075 1959 2075 z
" transform="scale(0.015625)"/>
<path id="DejaVuSans-38" d="M 2034 2216 Q 1584 2216 1326 1975 Q 1069 1734 1069 1313 Q 1069 891 1326 650 Q 1584 409 2034 409 Q 2484 409 2743 651 Q 3003 894 3003 1313 Q 3003 1734 2745 1975 Q 2488 2216 2034 2216 z
M 1403 2484 Q 997 2584 770 2862 Q 544 3141 544 3541 Q 544 4100 942 4425 Q 1341 4750 2034 4750 Q 2731 4750 3128 4425 Q 3525 4100 3525 3541 Q 3525 3141 3298 2862 Q 3072 2584 2669 2484 Q 3125 2378 3379 2068 Q 3634 1759 3634 1313 Q 3634 634 3220 271 Q 2806 -91 2034 -91 Q 1263 -91 848 271 Q 434 634 434 1313 Q 434 1759 690 2068 Q 947 2378 1403 2484 z
M 1172 3481 Q 1172 3119 1398 2916 Q 1625 2713 2034 2713 Q 2441 2713 2670 2916 Q 2900 3119 2900 3481 Q 2900 3844 2670 4047 Q 2441 4250 2034 4250 Q 1625 4250 1398 4047 Q 1172 3844 1172 3481 z
" transform="scale(0.015625)"/>
</defs>
<use href="#DejaVuSans-3ba" transform="translate(0 0.51875)"/>
<use href="#DejaVuSans-61" transform="translate(59.892578 38.8) scale(0.7)"/>
<use href="#DejaVuSans-76" transform="translate(102.788086 38.8) scale(0.7)"/>
<use href="#DejaVuSans-65" transform="translate(144.213867 38.8) scale(0.7)"/>
<use href="#DejaVuSans-70" transform="translate(59.892578 -26.825) scale(0.7)"/>
<use href="#DejaVuSans-2b" transform="translate(117.963867 -26.825) scale(0.7)"/>
<use href="#DejaVuSans-63" transform="translate(190.253906 -26.825) scale(0.7)"/>
<use href="#DejaVuSans-2c" transform="translate(231.474609 0.51875)"/>
<use href="#DejaVuSans-20" transform="translate(263.261719 0.51875)"/>
<use href="#DejaVuSans-39" transform="translate(295.048828 0.51875)"/>
<use href="#DejaVuSans-78" transform="translate(358.671875 0.51875)"/>
<use href="#DejaVuSans-39" transform="translate(417.851562 0.51875)"/>
<use href="#DejaVuSans-78" transform="translate(481.474609 0.51875)"/>
<use href="#DejaVuSans-38" transform="translate(540.654297 0.51875)"/>
</g>
</g>
<g id="line2d_80">
<path d="M 86.76 227.14 L 91.76 227.14 L 96.76 227.14 " style="fill: none; stroke: #2ca02c; stroke-linecap: square"/>
</g>
<g id="lt6" transform="translate(0.000 -0.240)">
<g transform="translate(100.76 230.64) scale(0.1 -0.1)">
<use href="#DejaVuSans-3ba" transform="translate(0 0.51875)"/>
<use href="#DejaVuSans-61" transform="translate(59.892578 38.8) scale(0.7)"/>
<use href="#DejaVuSans-76" transform="translate(102.788086 38.8) scale(0.7)"/>
<use href="#DejaVuSans-65" transform="translate(144.213867 38.8) scale(0.7)"/>
<use href="#DejaVuSans-70" transform="translate(59.892578 -26.825) scale(0.7)"/>
<use href="#DejaVuSans-2b" transform="translate(117.963867 -26.825) scale(0.7)"/>
<use href="#DejaVuSans-63" transform="translate(190.253906 -26.825) scale(0.7)"/>
<use href="#DejaVuSans-2c" transform="translate(231.474609 0.51875)"/>
<use href="#DejaVuSans-20" transform="translate(263.261719 0.51875)"/>
<use href="#DejaVuSans-31" transform="translate(295.048828 0.51875)"/>
<use href="#DejaVuSans-30" transform="translate(358.671875 0.51875)"/>
<use href="#DejaVuSans-78" transform="translate(422.294922 0.51875)"/>
<use href="#DejaVuSans-31" transform="translate(481.474609 0.51875)"/>
<use href="#DejaVuSans-30" transform="translate(545.097656 0.51875)"/>
<use href="#DejaVuSans-78" transform="translate(608.720703 0.51875)"/>
<use href="#DejaVuSans-39" transform="translate(667.900391 0.51875)"/>
</g>
</g>
</g>
</g>
</g>
<defs>
<clipPath id="p84a2641973">
<rect x="77.76" y="14.4" width="256.8" height="229.44"/>
</clipPath>
</defs>
</svg>

</body></html>
